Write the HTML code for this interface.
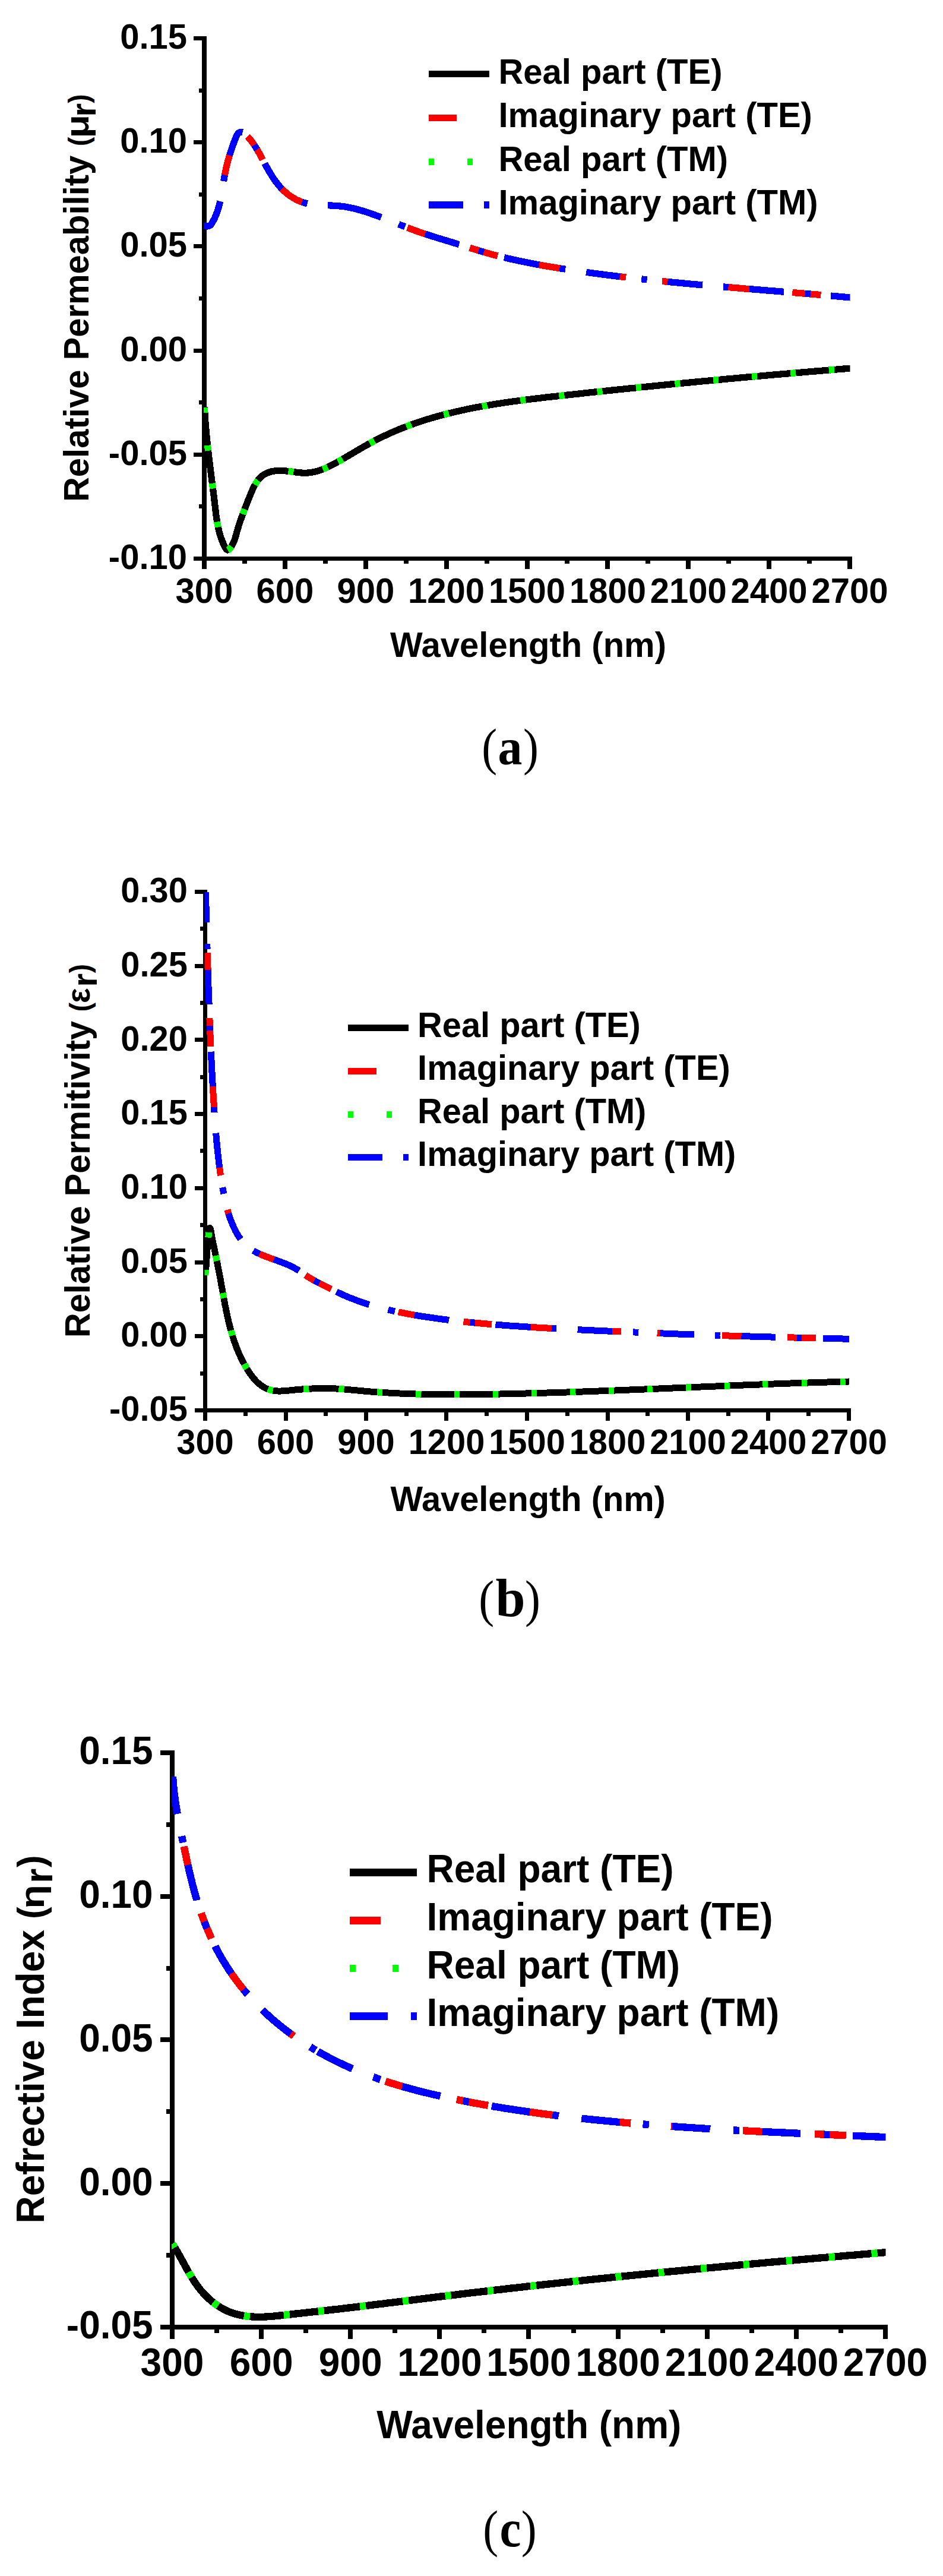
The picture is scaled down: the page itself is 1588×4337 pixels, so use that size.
<!DOCTYPE html>
<html><head><meta charset="utf-8"><title>Figure</title>
<style>html,body{margin:0;padding:0;background:#fff}svg{display:block}</style></head><body>
<svg width="1588" height="4337" viewBox="0 0 1588 4337">
<rect width="1588" height="4337" fill="#fff"/>
<g fill="#000" shape-rendering="crispEdges">
<rect x="340" y="61" width="8" height="883"/>
<rect x="340" y="937" width="1095" height="7"/>
<rect x="326" y="61" width="14" height="7"/>
<rect x="335" y="149" width="5" height="7"/>
<rect x="326" y="236" width="14" height="7"/>
<rect x="335" y="324" width="5" height="7"/>
<rect x="326" y="411" width="14" height="7"/>
<rect x="335" y="499" width="5" height="7"/>
<rect x="326" y="587" width="14" height="7"/>
<rect x="335" y="674" width="5" height="7"/>
<rect x="326" y="762" width="14" height="7"/>
<rect x="335" y="849" width="5" height="7"/>
<rect x="326" y="937" width="14" height="7"/>
<rect x="340" y="944" width="8" height="14"/>
<rect x="408" y="944" width="8" height="5"/>
<rect x="476" y="944" width="8" height="14"/>
<rect x="544" y="944" width="8" height="5"/>
<rect x="612" y="944" width="8" height="14"/>
<rect x="680" y="944" width="8" height="5"/>
<rect x="748" y="944" width="8" height="14"/>
<rect x="816" y="944" width="8" height="5"/>
<rect x="884" y="944" width="8" height="14"/>
<rect x="951" y="944" width="8" height="5"/>
<rect x="1019" y="944" width="8" height="14"/>
<rect x="1087" y="944" width="8" height="5"/>
<rect x="1155" y="944" width="8" height="14"/>
<rect x="1223" y="944" width="8" height="5"/>
<rect x="1291" y="944" width="8" height="14"/>
<rect x="1359" y="944" width="8" height="5"/>
<rect x="1427" y="944" width="8" height="14"/>
</g>
<g font-family='"Liberation Sans", Arial, Helvetica, sans-serif' font-weight="bold" font-size="58" fill="#000">
<text transform="translate(315 81.9) scale(1 1.03)" text-anchor="end">0.15</text>
<text transform="translate(315 257.1) scale(1 1.03)" text-anchor="end">0.10</text>
<text transform="translate(315 432.3) scale(1 1.03)" text-anchor="end">0.05</text>
<text transform="translate(315 607.5) scale(1 1.03)" text-anchor="end">0.00</text>
<text transform="translate(315 782.7) scale(1 1.03)" text-anchor="end">-0.05</text>
<text transform="translate(315 957.9) scale(1 1.03)" text-anchor="end">-0.10</text>
<text transform="translate(344 1015.1) scale(1 1.03)" text-anchor="middle">300</text>
<text transform="translate(479.9 1015.1) scale(1 1.03)" text-anchor="middle">600</text>
<text transform="translate(615.8 1015.1) scale(1 1.03)" text-anchor="middle">900</text>
<text transform="translate(751.6 1015.1) scale(1 1.03)" text-anchor="middle">1200</text>
<text transform="translate(887.5 1015.1) scale(1 1.03)" text-anchor="middle">1500</text>
<text transform="translate(1023.4 1015.1) scale(1 1.03)" text-anchor="middle">1800</text>
<text transform="translate(1159.2 1015.1) scale(1 1.03)" text-anchor="middle">2100</text>
<text transform="translate(1295.1 1015.1) scale(1 1.03)" text-anchor="middle">2400</text>
<text transform="translate(1431 1015.1) scale(1 1.03)" text-anchor="middle">2700</text>
<text transform="translate(657 1106) scale(1 1.03)">Wavelength (nm)</text>
<text transform="translate(149 845) rotate(-90) scale(1 1.03)">Relative Permeability</text>
<text transform="translate(149 246) rotate(-90) scale(1 1.03)" font-size="46" font-weight="bold">(</text>
<text transform="translate(149 232.5) rotate(-90) scale(1.2 1.03)" font-size="54" font-weight="bold">μ</text>
<text transform="translate(161.2 196.6) rotate(-90) scale(1 1.03)" font-size="58" font-weight="bold">r</text>
<text transform="translate(149 173.8) rotate(-90) scale(1 1.03)" font-size="46" font-weight="bold">)</text>
<text transform="translate(839.5 140.6) scale(1 1.03)">Real part (TE)</text>
<text transform="translate(839.5 214.3) scale(1 1.03)">Imaginary part (TE)</text>
<text transform="translate(839.5 288.2) scale(1 1.03)">Real part (TM)</text>
<text transform="translate(839.5 361) scale(1 1.03)">Imaginary part (TM)</text>
</g>
<g shape-rendering="crispEdges">
<rect x="722" y="118.9" width="102" height="11.2" fill="#000"/>
<rect x="722" y="192.7" width="47" height="11.2" fill="#f00"/>
<rect x="722" y="266.6" width="9" height="11.2" fill="#0f0"/>
<rect x="787" y="266.6" width="9" height="11.2" fill="#0f0"/>
<rect x="722" y="339.4" width="58" height="11.2" fill="#00f"/>
<rect x="815" y="339.4" width="9" height="11.2" fill="#00f"/>
</g>
<clipPath id="cpa"><rect x="343" y="64.5" width="1088.5" height="876"/></clipPath>
<g clip-path="url(#cpa)" fill="none" stroke-width="11.2" stroke-linecap="butt" stroke-linejoin="round" shape-rendering="crispEdges">
<path d="M378.2 296 L378.7 293.3 L379.2 290.8 L379.7 288.4 L380.2 285.9 L380.8 283.4 L381.3 281 L381.9 278.5 L382.5 276.1 L383.1 273.7 L383.8 271.2 L384.4 268.8 L385.1 266.3 L385.8 263.9 L386.6 261.4 L386.9 260.4" stroke="#f00"/>
<path d="M416.8 229.8 L418.6 231.7 L420.4 233.7 L422 235.7 L423.6 237.7 L425.2 239.8 L426.7 241.9 L428.1 244 L429.5 246.1" stroke="#f00"/>
<path d="M432 250.2 L433.5 252.7 L434.8 254.9 L436.1 257.2 L437.3 259.4 L438.6 261.7 L439.8 264 L441 266.3 L442.3 268.6 L442.5 269" stroke="#f00"/>
<path d="M473.8 317 L475.7 319 L477.5 320.8 L479.4 322.5 L481.4 324.2 L483.3 325.9 L485.4 327.5 L487.4 329 L489.5 330.5 L491.7 331.9 L493.8 333.2 L496.1 334.5 L498.3 335.7 L500.6 336.9 L502.9 337.9 L505.2 338.9 L507.6 339.8 L509.8 340.6" stroke="#f00"/>
<path d="M686.1 383.3 L688.6 384.2 L691 385.1 L693.4 386 L695.8 386.9 L698.2 387.8 L700.6 388.7 L703 389.5 L705.4 390.4 L707.9 391.2 L710.3 392.1 L712.7 392.9 L715.1 393.7 L717.4 394.4" stroke="#f00"/>
<path d="M791 417.2 L793.4 418 L795.9 418.7 L798.4 419.5 L800.9 420.3 L803.4 421 L805.9 421.8 L807.3 422.2" stroke="#f00"/>
<path d="M813.2 424 L815.9 424.8 L818.4 425.5 L820.9 426.2 L823.4 426.9 L825.9 427.6 L828.4 428.3 L830.9 428.9 L833.5 429.6 L836 430.2 L838.1 430.8" stroke="#f00"/>
<path d="M906.5 445.6 L909.3 446.1 L911.8 446.5 L914.4 447 L916.9 447.4 L919.5 447.9 L922 448.3 L924.6 448.7 L927.1 449.2 L929.7 449.6 L932.2 450 L934.7 450.4 L937.3 450.8 L939.8 451.3 L942.4 451.7 L943.9 451.9" stroke="#f00"/>
<path d="M1042.4 465.5 L1045.1 465.8 L1047.7 466.1 L1050.3 466.4 L1052.8 466.7 L1054.1 466.9" stroke="#f00"/>
<path d="M1114.9 473.5 L1117.5 473.7 L1120 474 L1122.6 474.2 L1125.2 474.5 L1125.8 474.5" stroke="#f00"/>
<path d="M1225 483.5 L1227.8 483.7 L1230.4 483.9 L1232.9 484.2 L1235.5 484.4 L1238.1 484.6 L1240.7 484.8 L1243.2 485 L1245.8 485.2 L1248.4 485.4 L1251 485.7 L1253.5 485.9 L1256.1 486.1 L1258.7 486.3 L1261.3 486.5 L1263.6 486.7" stroke="#f00"/>
<path d="M1334.3 492.5 L1336.9 492.7 L1339.5 492.9 L1342 493.1 L1344.6 493.3 L1347.2 493.5 L1349.8 493.7 L1352.3 494 L1354.9 494.2 L1357.3 494.4" stroke="#f00"/>
<path d="M1363.3 494.9 L1366.1 495.1 L1368.6 495.3 L1371.2 495.6 L1373.8 495.8 L1376.4 496 L1378.9 496.2 L1381.5 496.4 L1382.4 496.5" stroke="#f00"/>
<path d="M337.7 379.3 L340.4 379.7 L342.9 380.2 L345.7 380.7 L348.3 381 L351 380.8 L353.3 379.8 L355.2 378 L356.9 375.6 L358.2 373.4 L359.4 371.2 L360.6 368.9 L361.7 366.7 L362.7 364.3 L363.7 362 L364.7 359.6 L365.6 357.2 L366.4 354.7 L367.2 352.2 L367.9 349.8 L368.6 347.3 L369.3 344.7 L369.9 342.2 L370.5 339.6 L370.7 338.8" stroke="#00f"/>
<path d="M376.6 305.1 L377 302.6 L377.5 300 L377.9 297.5 L378.4 295 L378.5 294.6" stroke="#00f"/>
<path d="M386.4 261.8 L387.2 259.4 L388 256.9 L388.8 254.4 L389.6 251.9 L390.5 249.4 L391.3 246.9 L392.2 244.3 L393.2 241.7 L394.2 239.2 L395.2 236.5 L396.2 233.9 L397.3 231.3 L398.4 228.8 L399.7 226.5 L401.4 224.3 L403.5 222.9 L406.1 222.2 L408.5 222.8" stroke="#00f"/>
<path d="M428.2 244.1 L429.7 246.5 L431.1 248.7 L432.4 250.9 L433 251.8" stroke="#00f"/>
<path d="M445.8 275.1 L447 277.4 L448.3 279.7 L449.5 282 L450.8 284.3 L452.1 286.6 L453.4 288.8 L454.8 291.1 L456.1 293.3 L457.5 295.5 L458.9 297.7 L460.3 299.9 L461.8 302 L463.3 304.2 L464.8 306.3 L466.4 308.3 L468 310.3 L469.6 312.3 L471.3 314.3 L473 316.2 L474.8 318 L474.8 318" stroke="#00f"/>
<path d="M508.4 340.1 L510.8 340.9 L513.2 341.7 L515.7 342.3 L517.7 342.8" stroke="#00f"/>
<path d="M552 345.8 L554.6 345.9 L557.3 346 L559.9 346.1 L562.5 346.2 L565.1 346.4 L567.7 346.5 L570.3 346.8 L572.9 347 L575.5 347.3 L578.1 347.6 L580.7 348 L583.2 348.4 L585.8 348.9 L588.3 349.4 L590.9 349.9 L593.4 350.4 L595.9 351 L598.5 351.6 L601 352.3 L603.5 353 L606 353.7 L608.5 354.4 L610.9 355.1 L613.4 355.9 L615.9 356.7 L618.4 357.5 L620.8 358.3 L623.3 359.1 L625.7 360 L628.2 360.9 L630.6 361.7 L633.1 362.6 L635.5 363.5 L637.9 364.4 L640.4 365.4 L642 366" stroke="#00f"/>
<path d="M671.3 377.5 L673.7 378.5 L676.1 379.4 L678.5 380.3 L680.9 381.3 L682.1 381.8" stroke="#00f"/>
<path d="M715.9 393.9 L718.4 394.7 L720.8 395.5 L723.2 396.3 L725.7 397.1 L728.1 397.9 L730.6 398.6 L733 399.4 L735.5 400.1 L737.9 400.9 L740.3 401.6 L742.8 402.4 L745.3 403.1 L747.7 403.9 L750.2 404.6 L752.6 405.4 L755.1 406.1 L757.5 406.8 L760 407.6 L762.5 408.3 L764.9 409.1 L767.4 409.8 L769.9 410.6 L772.4 411.4 L773.2 411.6" stroke="#00f"/>
<path d="M805.9 421.8 L808.4 422.5 L810.9 423.3 L813.4 424 L814.7 424.4" stroke="#00f"/>
<path d="M849 433.5 L851.5 434.1 L854 434.7 L856.5 435.3 L859.1 435.9 L861.6 436.5 L864.1 437 L866.6 437.6 L869.2 438.1 L871.7 438.7 L874.2 439.2 L876.7 439.8 L879.3 440.3 L881.8 440.8 L884.3 441.3 L886.9 441.8 L889.4 442.3 L891.9 442.8 L894.5 443.3 L897 443.8 L899.6 444.3 L902.1 444.8 L904.6 445.2 L907.2 445.7 L908 445.8" stroke="#00f"/>
<path d="M942.4 451.7 L944.9 452.1 L947.5 452.5 L950 452.9 L952.2 453.2" stroke="#00f"/>
<path d="M987.1 458.3 L989.6 458.7 L992.2 459 L994.8 459.4 L997.3 459.7 L999.9 460.1 L1002.4 460.4 L1005 460.8 L1007.6 461.1 L1010.1 461.4 L1012.7 461.8 L1015.2 462.1 L1017.8 462.4 L1020.4 462.8 L1022.9 463.1 L1025.5 463.4 L1028 463.7 L1030.6 464 L1033.2 464.4 L1035.7 464.7 L1038.3 465 L1040.9 465.3 L1043.4 465.6 L1043.9 465.7" stroke="#00f"/>
<path d="M1080.2 469.8 L1082.8 470.1 L1085.3 470.4 L1087.9 470.7 L1089.6 470.8" stroke="#00f"/>
<path d="M1124.3 474.4 L1126.9 474.7 L1129.5 474.9 L1132.1 475.2 L1134.6 475.4 L1137.2 475.7 L1139.8 475.9 L1142.3 476.1 L1144.9 476.4 L1147.5 476.6 L1150.1 476.9 L1152.6 477.1 L1155.2 477.4 L1157.8 477.6 L1160.4 477.8 L1162.9 478.1 L1165.5 478.3 L1168.1 478.5 L1170.7 478.8 L1173.2 479 L1175.8 479.2 L1178.4 479.5 L1181 479.7 L1183.1 479.9" stroke="#00f"/>
<path d="M1217.9 482.9 L1220.5 483.1 L1223 483.3 L1225.6 483.5 L1226.5 483.6" stroke="#00f"/>
<path d="M1262.1 486.6 L1264.7 486.8 L1267.3 487 L1269.9 487.2 L1272.4 487.4 L1275 487.6 L1277.6 487.8 L1280.2 488 L1282.8 488.3 L1285.3 488.5 L1287.9 488.7 L1290.5 488.9 L1293.1 489.1 L1295.6 489.3 L1298.2 489.5 L1300.8 489.7 L1303.4 489.9 L1306 490.1 L1308.5 490.3 L1311.1 490.6 L1313.7 490.8 L1316.3 491 L1318.8 491.2 L1320.1 491.3" stroke="#00f"/>
<path d="M1355.8 494.2 L1358.3 494.5 L1360.9 494.7 L1363.5 494.9 L1364.8 495" stroke="#00f"/>
<path d="M1399.1 498 L1401.7 498.2 L1404.3 498.4 L1406.8 498.7 L1409.4 498.9 L1412 499.1 L1414.5 499.4 L1417.1 499.6 L1419.7 499.8 L1422.3 500.1 L1424.8 500.3 L1427.4 500.5 L1430 500.8 L1432.5 501 L1435.1 501.3 L1436 501.3" stroke="#00f"/>
<path d="M344.5 685.5 L344.6 688.3 L344.8 691.1 L344.9 693.9 L345.1 696.8 L345.2 699.6 L345.4 702.4 L345.6 705.2 L345.8 708.1 L346 710.9 L346.2 713.7 L346.4 716.5 L346.6 719.3 L346.9 722.1 L347.1 724.9 L347.4 727.7 L347.6 730.5 L347.9 733.3 L348.2 736.1 L348.4 738.9 L348.7 741.7 L349 744.5 L349.3 747.3 L349.6 750.1 L349.9 752.9 L350.2 755.7 L350.5 758.5 L350.9 761.3 L351.2 764.1 L351.5 766.9 L351.8 769.7 L352.2 772.5 L352.5 775.3 L352.9 778.1 L353.2 780.9 L353.6 783.7 L353.9 786.5 L354.3 789.3 L354.6 792.1 L355 794.9 L355.3 797.6 L355.7 800.4 L356 803.2 L356.4 806 L356.8 808.8 L357.1 811.6 L357.5 814.4 L357.8 817.2 L358.2 820 L358.5 822.8 L358.9 825.6 L359.2 828.4 L359.6 831.2 L360 834 L360.3 836.8 L360.6 839.6 L361 842.4 L361.3 845.2 L361.7 848 L362 850.8 L362.3 853.7 L362.7 856.5 L363 859.3 L363.3 862.1 L363.7 864.9 L364 867.7 L364.4 870.5 L364.8 873.3 L365.3 876.1 L365.7 878.9 L366.2 881.7 L366.7 884.4 L367.3 887.2 L367.9 890 L368.5 892.7 L369.2 895.4 L369.9 898.2 L370.7 900.9 L371.6 903.6 L372.5 906.3 L373.5 908.9 L374.5 911.6 L375.6 914.2 L376.8 916.9 L378 919.5 L379.4 922.1 L380.8 924.4 L383 926 L385.5 925.1 L387.4 923.2 L389 921.1 L390.4 918.9 L391.7 916.6 L392.8 914.4 L394 911.6 L395 908.9 L395.9 906.2 L396.7 903.5 L397.5 900.7 L398.2 898 L399 895.3 L399.8 892.5 L400.6 889.8 L401.4 887.1 L402.3 884.4 L403.2 881.7 L404.1 879 L405 876.3 L405.9 873.7 L406.9 871 L407.8 868.4 L408.8 865.8 L409.8 863.2 L410.8 860.6 L411.7 858 L412.7 855.5 L413.7 852.9 L414.7 850.4 L415.7 847.8 L416.7 845.2 L417.7 842.6 L418.8 840 L419.8 837.4 L420.9 834.8 L422 832.1 L423.1 829.4 L424.3 826.6 L425.5 823.9 L426.8 821.3 L428.1 818.6 L429.5 816.1 L430.9 813.6 L432.5 811.2 L434.1 808.9 L435.9 806.7 L437.7 804.6 L439.7 802.7 L441.8 801 L444 799.4 L446.3 798 L448.7 796.8 L451.3 795.7 L453.9 794.8 L456.5 794 L459.2 793.4 L462 793 L464.8 792.6 L467.6 792.4 L470.5 792.3 L473.3 792.4 L476.1 792.5 L479 792.7 L481.9 793 L484.7 793.3 L487.6 793.6 L490.4 794 L493.3 794.4 L496.1 794.8 L499 795.2 L501.8 795.5 L504.7 795.8 L507.5 796 L510.3 796.2 L513.1 796.2 L515.8 796.2 L518.6 796 L521.3 795.8 L524 795.4 L526.7 794.9 L529.4 794.4 L532.1 793.7 L534.7 793 L537.4 792.2 L540 791.3 L542.6 790.4 L545.2 789.3 L547.8 788.3 L550.4 787.1 L552.9 785.9 L555.5 784.7 L558 783.4 L560.6 782.1 L563.1 780.8 L565.6 779.4 L568.1 778 L570.6 776.6 L573.1 775.2 L575.6 773.8 L578.1 772.3 L580.6 770.9 L583.1 769.4 L585.5 768 L588 766.5 L590.5 765.1 L592.9 763.6 L595.4 762.2 L597.9 760.7 L600.3 759.3 L602.8 757.8 L605.2 756.4 L607.7 754.9 L610.2 753.5 L612.6 752.1 L615.1 750.7 L617.6 749.3 L620.1 747.9 L622.5 746.5 L625 745.1 L627.5 743.8 L630 742.5 L632.5 741.2 L635 739.9 L637.5 738.6 L640.1 737.3 L642.6 736.1 L645.1 734.9 L647.6 733.7 L650.2 732.5 L652.7 731.3 L655.3 730.1 L657.8 729 L660.4 727.8 L663 726.7 L665.6 725.6 L668.1 724.5 L670.7 723.4 L673.3 722.4 L675.9 721.3 L678.5 720.3 L681.1 719.3 L683.7 718.3 L686.3 717.3 L688.9 716.3 L691.6 715.3 L694.2 714.4 L696.8 713.5 L699.5 712.5 L702.1 711.6 L704.8 710.7 L707.4 709.8 L710.1 709 L712.7 708.1 L715.4 707.3 L718 706.4 L720.7 705.6 L723.4 704.8 L726.1 704 L728.8 703.2 L731.4 702.4 L734.1 701.7 L736.8 700.9 L739.5 700.2 L742.2 699.4 L744.9 698.7 L747.6 698 L750.3 697.3 L753.1 696.6 L755.8 695.9 L758.5 695.3 L761.2 694.6 L764 694 L766.7 693.3 L769.4 692.7 L772.2 692.1 L774.9 691.5 L777.6 690.9 L780.4 690.3 L783.1 689.7 L785.9 689.1 L788.6 688.5 L791.4 688 L794.2 687.4 L796.9 686.9 L799.7 686.3 L802.4 685.8 L805.2 685.3 L808 684.8 L810.8 684.3 L813.5 683.8 L816.3 683.3 L819.1 682.8 L821.9 682.3 L824.7 681.9 L827.4 681.4 L830.2 681 L833 680.5 L835.8 680.1 L838.6 679.6 L841.4 679.2 L844.2 678.8 L847 678.3 L849.8 677.9 L852.6 677.5 L855.4 677.1 L858.2 676.7 L861 676.3 L863.8 675.9 L866.6 675.6 L869.4 675.2 L872.2 674.8 L875 674.4 L877.9 674.1 L880.7 673.7 L883.5 673.3 L886.3 673 L889.1 672.6 L891.9 672.3 L894.7 671.9 L897.5 671.6 L900.4 671.3 L903.2 670.9 L906 670.6 L908.8 670.3 L911.6 669.9 L914.4 669.6 L917.3 669.3 L920.1 668.9 L922.9 668.6 L925.7 668.3 L928.5 668 L931.4 667.7 L934.2 667.4 L937 667.1 L939.8 666.7 L942.6 666.4 L945.4 666.1 L948.3 665.8 L951.1 665.5 L953.9 665.2 L956.7 664.9 L959.5 664.6 L962.3 664.3 L965.1 664 L968 663.7 L970.8 663.4 L973.6 663.1 L976.4 662.8 L979.2 662.4 L982 662.1 L984.8 661.8 L987.6 661.5 L990.4 661.2 L993.2 660.9 L996.1 660.6 L998.9 660.3 L1001.7 660 L1004.5 659.8 L1007.3 659.5 L1010.1 659.2 L1012.9 658.9 L1015.7 658.6 L1018.5 658.3 L1021.3 658 L1024.1 657.7 L1026.9 657.4 L1029.7 657.1 L1032.5 656.8 L1035.3 656.5 L1038.1 656.2 L1041 655.9 L1043.8 655.6 L1046.6 655.4 L1049.4 655.1 L1052.2 654.8 L1055 654.5 L1057.8 654.2 L1060.6 653.9 L1063.4 653.6 L1066.2 653.4 L1069 653.1 L1071.8 652.8 L1074.6 652.5 L1077.4 652.2 L1080.2 651.9 L1083 651.7 L1085.8 651.4 L1088.6 651.1 L1091.4 650.8 L1094.2 650.5 L1097 650.3 L1099.8 650 L1102.6 649.7 L1105.4 649.4 L1108.2 649.1 L1111 648.9 L1113.8 648.6 L1116.6 648.3 L1119.4 648 L1122.2 647.8 L1125 647.5 L1127.8 647.2 L1130.6 646.9 L1133.4 646.7 L1136.2 646.4 L1139 646.1 L1141.8 645.9 L1144.6 645.6 L1147.4 645.3 L1150.2 645 L1153 644.8 L1155.8 644.5 L1158.6 644.2 L1161.4 644 L1164.1 643.7 L1166.9 643.4 L1169.7 643.2 L1172.5 642.9 L1175.3 642.6 L1178.1 642.4 L1180.9 642.1 L1183.7 641.8 L1186.5 641.6 L1189.3 641.3 L1192.1 641.1 L1194.9 640.8 L1197.7 640.5 L1200.5 640.3 L1203.3 640 L1206.1 639.7 L1208.9 639.5 L1211.7 639.2 L1214.5 639 L1217.3 638.7 L1220.1 638.5 L1222.9 638.2 L1225.7 637.9 L1228.5 637.7 L1231.3 637.4 L1234.1 637.2 L1236.9 636.9 L1239.7 636.7 L1242.5 636.4 L1245.3 636.1 L1248.1 635.9 L1250.9 635.6 L1253.7 635.4 L1256.5 635.1 L1259.3 634.9 L1262.1 634.6 L1264.9 634.4 L1267.7 634.1 L1270.5 633.9 L1273.4 633.6 L1276.2 633.4 L1279 633.1 L1281.8 632.9 L1284.6 632.6 L1287.4 632.4 L1290.2 632.1 L1293 631.9 L1295.8 631.6 L1298.6 631.4 L1301.4 631.1 L1304.2 630.9 L1307 630.7 L1309.8 630.4 L1312.6 630.2 L1315.4 629.9 L1318.2 629.7 L1321.1 629.4 L1323.9 629.2 L1326.7 629 L1329.5 628.7 L1332.3 628.5 L1335.1 628.2 L1337.9 628 L1340.7 627.7 L1343.5 627.5 L1346.3 627.3 L1349.2 627 L1352 626.8 L1354.8 626.5 L1357.6 626.3 L1360.4 626.1 L1363.2 625.8 L1366 625.6 L1368.9 625.4 L1371.7 625.1 L1374.5 624.9 L1377.3 624.6 L1380.1 624.4 L1382.9 624.2 L1385.8 623.9 L1388.6 623.7 L1391.4 623.5 L1394.2 623.2 L1397 623 L1399.9 622.8 L1402.7 622.5 L1405.5 622.3 L1408.3 622.1 L1411.1 621.8 L1414 621.6 L1416.8 621.4 L1419.6 621.1 L1422.4 620.9 L1425.3 620.7 L1428.1 620.4 L1430.9 620.2 L1433.8 620 L1436.1 619.8" stroke="#000"/>
<path d="M344.5 685.7 L344.6 688.3 L344.8 691.1 L344.9 693.9 L344.9 694.7" stroke="#0f0"/>
<path d="M349.6 749.9 L349.9 752.5 L350.2 755.3 L350.5 758.1 L350.6 758.8" stroke="#0f0"/>
<path d="M357.4 813.7 L357.7 816.3 L358.1 819.1 L358.4 821.9 L358.5 822.6" stroke="#0f0"/>
<path d="M365.7 878.6 L366.1 881.2 L366.6 884 L367.2 886.7 L367.3 887.5" stroke="#0f0"/>
<path d="M383.5 926 L385.8 924.9 L387.8 922.8 L389.3 920.7 L389.8 920" stroke="#0f0"/>
<path d="M408.9 865.7 L409.8 863.2 L410.8 860.6 L411.7 858 L412 857.2" stroke="#0f0"/>
<path d="M429.4 816.2 L430.7 814 L432.2 811.6 L433.9 809.2 L434.3 808.7" stroke="#0f0"/>
<path d="M485.5 793.4 L488.1 793.7 L490.9 794.1 L493.8 794.5 L494.4 794.6" stroke="#0f0"/>
<path d="M543.6 790 L546.1 789 L548.7 787.9 L551.2 786.7 L551.9 786.4" stroke="#0f0"/>
<path d="M569.2 777.4 L571.5 776.2 L574 774.7 L576.5 773.3 L577 773" stroke="#0f0"/>
<path d="M622.7 746.4 L625 745.1 L627.5 743.8 L630 742.5 L630.7 742.1" stroke="#0f0"/>
<path d="M684.3 718.1 L686.8 717.1 L689.4 716.1 L692 715.2 L692.7 714.9" stroke="#0f0"/>
<path d="M747.3 698.1 L749.9 697.4 L752.6 696.7 L755.3 696.1 L756.1 695.9" stroke="#0f0"/>
<path d="M811.9 684.1 L814.5 683.6 L817.2 683.1 L820 682.7 L820.7 682.5" stroke="#0f0"/>
<path d="M876.2 674.3 L878.8 673.9 L881.6 673.6 L884.4 673.2 L885.1 673.1" stroke="#0f0"/>
<path d="M941.4 666.6 L944 666.3 L946.8 666 L949.7 665.7 L950.4 665.6" stroke="#0f0"/>
<path d="M1005.6 659.6 L1008.2 659.4 L1011 659.1 L1013.8 658.8 L1014.6 658.7" stroke="#0f0"/>
<path d="M1071 652.9 L1073.6 652.6 L1076.4 652.3 L1079.2 652 L1080 652" stroke="#0f0"/>
<path d="M1136.4 646.4 L1139 646.1 L1141.8 645.9 L1144.6 645.6 L1145.3 645.5" stroke="#0f0"/>
<path d="M1201.2 640.2 L1203.8 640 L1206.6 639.7 L1209.4 639.4 L1210.1 639.4" stroke="#0f0"/>
<path d="M1266.1 634.3 L1268.7 634 L1271.5 633.8 L1274.3 633.5 L1275 633.5" stroke="#0f0"/>
<path d="M1331.1 628.6 L1333.7 628.3 L1336.5 628.1 L1339.3 627.9 L1340.1 627.8" stroke="#0f0"/>
<path d="M1395.8 623.1 L1398.4 622.9 L1401.3 622.7 L1404.1 622.4 L1404.8 622.4" stroke="#0f0"/>
</g>
<g font-family='"Liberation Serif", "Times New Roman", serif' fill="#000">
<text transform="translate(811.3 1286.5) scale(0.905 1)" font-size="86">(</text>
<text transform="translate(838.4 1286.5) scale(0.94 1)" font-size="87" font-weight="bold">a</text>
<text transform="translate(881.1 1286.5) scale(0.905 1)" font-size="86">)</text>
</g>
<g fill="#000" shape-rendering="crispEdges">
<rect x="342" y="1498" width="7" height="880"/>
<rect x="342" y="2371" width="1091" height="7"/>
<rect x="328" y="1498" width="14" height="7"/>
<rect x="337" y="1560" width="5" height="7"/>
<rect x="328" y="1623" width="14" height="7"/>
<rect x="337" y="1685" width="5" height="7"/>
<rect x="328" y="1747" width="14" height="7"/>
<rect x="337" y="1810" width="5" height="7"/>
<rect x="328" y="1872" width="14" height="7"/>
<rect x="337" y="1934" width="5" height="7"/>
<rect x="328" y="1997" width="14" height="7"/>
<rect x="337" y="2059" width="5" height="7"/>
<rect x="328" y="2122" width="14" height="7"/>
<rect x="337" y="2184" width="5" height="7"/>
<rect x="328" y="2246" width="14" height="7"/>
<rect x="337" y="2309" width="5" height="7"/>
<rect x="328" y="2371" width="14" height="7"/>
<rect x="342" y="2378" width="7" height="14"/>
<rect x="410" y="2378" width="7" height="6"/>
<rect x="478" y="2378" width="7" height="14"/>
<rect x="545" y="2378" width="7" height="6"/>
<rect x="613" y="2378" width="7" height="14"/>
<rect x="681" y="2378" width="7" height="6"/>
<rect x="748" y="2378" width="7" height="14"/>
<rect x="816" y="2378" width="7" height="6"/>
<rect x="884" y="2378" width="7" height="14"/>
<rect x="952" y="2378" width="7" height="6"/>
<rect x="1020" y="2378" width="7" height="14"/>
<rect x="1087" y="2378" width="7" height="6"/>
<rect x="1155" y="2378" width="7" height="14"/>
<rect x="1223" y="2378" width="7" height="6"/>
<rect x="1290" y="2378" width="7" height="14"/>
<rect x="1358" y="2378" width="7" height="6"/>
<rect x="1426" y="2378" width="7" height="14"/>
</g>
<g font-family='"Liberation Sans", Arial, Helvetica, sans-serif' font-weight="bold" font-size="57.8" fill="#000">
<text transform="translate(315.8 1519.1) scale(1 1.03)" text-anchor="end">0.30</text>
<text transform="translate(315.8 1643.8) scale(1 1.03)" text-anchor="end">0.25</text>
<text transform="translate(315.8 1768.5) scale(1 1.03)" text-anchor="end">0.20</text>
<text transform="translate(315.8 1893.2) scale(1 1.03)" text-anchor="end">0.15</text>
<text transform="translate(315.8 2018) scale(1 1.03)" text-anchor="end">0.10</text>
<text transform="translate(315.8 2142.7) scale(1 1.03)" text-anchor="end">0.05</text>
<text transform="translate(315.8 2267.4) scale(1 1.03)" text-anchor="end">0.00</text>
<text transform="translate(315.8 2392.1) scale(1 1.03)" text-anchor="end">-0.05</text>
<text transform="translate(345.5 2448) scale(1 1.03)" text-anchor="middle">300</text>
<text transform="translate(481 2448) scale(1 1.03)" text-anchor="middle">600</text>
<text transform="translate(616.5 2448) scale(1 1.03)" text-anchor="middle">900</text>
<text transform="translate(752 2448) scale(1 1.03)" text-anchor="middle">1200</text>
<text transform="translate(887.5 2448) scale(1 1.03)" text-anchor="middle">1500</text>
<text transform="translate(1023 2448) scale(1 1.03)" text-anchor="middle">1800</text>
<text transform="translate(1158.5 2448) scale(1 1.03)" text-anchor="middle">2100</text>
<text transform="translate(1294 2448) scale(1 1.03)" text-anchor="middle">2400</text>
<text transform="translate(1429.5 2448) scale(1 1.03)" text-anchor="middle">2700</text>
<text transform="translate(657.5 2543.6) scale(1 1.03)">Wavelength (nm)</text>
<text transform="translate(150.9 2252) rotate(-90) scale(1 1.03)">Relative Permitivity</text>
<text transform="translate(150.9 1703.3) rotate(-90) scale(1 1.03)" font-size="46" font-weight="bold">(</text>
<text transform="translate(150.9 1689.1) rotate(-90) scale(1 1.03)" font-size="54" font-weight="bold">ε</text>
<text transform="translate(163 1661.4) rotate(-90) scale(1 1.03)" font-size="58" font-weight="bold">r</text>
<text transform="translate(150.9 1638.3) rotate(-90) scale(1 1.03)" font-size="46" font-weight="bold">)</text>
<text transform="translate(703.1 1745.9) scale(1 1.03)">Real part (TE)</text>
<text transform="translate(703.1 1818.4) scale(1 1.03)">Imaginary part (TE)</text>
<text transform="translate(703.1 1890.9) scale(1 1.03)">Real part (TM)</text>
<text transform="translate(703.1 1963.1) scale(1 1.03)">Imaginary part (TM)</text>
</g>
<g shape-rendering="crispEdges">
<rect x="586.1" y="1724.9" width="101.8" height="11" fill="#000"/>
<rect x="586.1" y="1797.8" width="47.7" height="11" fill="#f00"/>
<rect x="586.1" y="1870.5" width="8.9" height="11" fill="#0f0"/>
<rect x="651.3" y="1870.5" width="8.9" height="11" fill="#0f0"/>
<rect x="586.1" y="1943.2" width="57.9" height="11" fill="#00f"/>
<rect x="679" y="1943.2" width="8.9" height="11" fill="#00f"/>
</g>
<clipPath id="cpb"><rect x="344.5" y="1502" width="1085.5" height="872.5"/></clipPath>
<g clip-path="url(#cpb)" fill="none" stroke-width="11" stroke-linecap="butt" stroke-linejoin="round" shape-rendering="crispEdges">
<path d="M349.3 1604.4 L349.4 1607.2 L349.4 1609.9 L349.5 1612.7 L349.6 1615.5 L349.7 1618.2 L349.8 1621 L349.9 1623.8 L349.9 1626.6 L350 1629.3 L350.1 1632.1 L350.2 1634.2" stroke="#f00"/>
<path d="M352.9 1714.1 L353 1716.9 L353.1 1719.7 L353.2 1722.4 L353.3 1725.2 L353.5 1728 L353.5 1728.4" stroke="#f00"/>
<path d="M353.7 1733.7 L353.8 1736.3 L353.9 1739 L354 1741.8 L354.1 1744.6 L354.3 1747.4 L354.4 1750.1 L354.5 1752.9 L354.6 1755.7 L354.7 1758.4 L354.9 1761.2 L354.9 1761.8" stroke="#f00"/>
<path d="M358.2 1827.4 L358.4 1830 L358.5 1832.8 L358.7 1835.6 L358.9 1838.3 L359 1841.1 L359.2 1843.9 L359.4 1846.7 L359.5 1849.4 L359.7 1852.2 L359.9 1855 L360.1 1857.8 L360.2 1860.6 L360.4 1863.3 L360.5 1865.4" stroke="#f00"/>
<path d="M369.5 1964.3 L369.9 1966.9 L370.2 1969.7 L370.6 1972.4 L371 1975.1 L371.4 1977.9 L371.6 1979" stroke="#f00"/>
<path d="M382.9 2036.7 L383.7 2039.4 L384.5 2042 L385.1 2044.2" stroke="#f00"/>
<path d="M435.8 2110.5 L438.2 2111.6 L440.7 2112.6 L443.2 2113.7 L445.7 2114.7 L448.3 2115.7 L450.8 2116.7 L453.4 2117.6 L456 2118.6 L458.6 2119.5 L461.2 2120.4 L462.6 2120.9" stroke="#f00"/>
<path d="M514.4 2146.9 L516.8 2148.5 L519.1 2150 L521.5 2151.5 L523.9 2152.9 L526.3 2154.3 L528.7 2155.6 L530.5 2156.6" stroke="#f00"/>
<path d="M536.6 2159.8 L538.9 2161 L541.3 2162.2 L543.8 2163.5 L546.2 2164.7 L548.7 2165.9 L551.2 2167.1 L553.7 2168.3 L556.2 2169.6 L557.7 2170.3" stroke="#f00"/>
<path d="M670.8 2208.9 L673.5 2209.5 L676.2 2210 L678.9 2210.6 L681.6 2211.1 L684.3 2211.6 L687 2212.1 L689.7 2212.6 L692.5 2213.1 L695.2 2213.6 L697.9 2214 L699.4 2214.3" stroke="#f00"/>
<path d="M780.5 2225.2 L783.3 2225.5 L786.1 2225.8 L788.8 2226.1 L791.6 2226.3 L793.1 2226.5" stroke="#f00"/>
<path d="M798.4 2227 L801.1 2227.2 L803.8 2227.5 L806.6 2227.8 L809.4 2228 L812.2 2228.3 L814.9 2228.5 L817.7 2228.8 L820.5 2229 L823.3 2229.2 L826.1 2229.5 L828.3 2229.6" stroke="#f00"/>
<path d="M892.3 2234.3 L894.9 2234.4 L897.7 2234.6 L900.5 2234.8 L903.3 2235 L906 2235.1 L908.8 2235.3 L911.6 2235.4 L914.4 2235.6 L917.1 2235.8 L919.9 2235.9 L922.7 2236.1 L925.5 2236.2 L928.2 2236.4 L930.3 2236.5" stroke="#f00"/>
<path d="M1029.8 2241.3 L1032.4 2241.4 L1035.2 2241.5 L1038 2241.6 L1040.7 2241.8 L1043.5 2241.9 L1046.3 2242 L1046.3 2242" stroke="#f00"/>
<path d="M1106.6 2244.6 L1109.4 2244.7 L1112.2 2244.8 L1112.6 2244.8" stroke="#f00"/>
<path d="M1216.3 2248.6 L1219.1 2248.7 L1221.9 2248.8 L1224.7 2248.9 L1227.4 2249 L1230.2 2249 L1233 2249.1 L1235.7 2249.2 L1238.5 2249.3 L1241.3 2249.4 L1244.1 2249.5 L1246.8 2249.5 L1249.6 2249.6 L1250 2249.6" stroke="#f00"/>
<path d="M1326.2 2251.7 L1329 2251.8 L1331.7 2251.8 L1334.5 2251.9 L1337.3 2252 L1340.1 2252 L1342.8 2252.1 L1343.2 2252.1" stroke="#f00"/>
<path d="M1348.6 2252.3 L1351.2 2252.3 L1354 2252.4 L1356.7 2252.5 L1359.5 2252.5 L1362.3 2252.6 L1365.1 2252.7 L1367.9 2252.7 L1370.6 2252.8 L1373.4 2252.9 L1374 2252.9" stroke="#f00"/>
<path d="M346 1489.9 L346 1492.7 L346.1 1495.5 L346.2 1498.3 L346.3 1501.1 L346.4 1503.9 L346.4 1506.6 L346.5 1509.4 L346.6 1512.2 L346.7 1515 L346.8 1517.8 L346.9 1520.5 L346.9 1523.3 L347 1526.1 L347.1 1528.9 L347.2 1531.7 L347.3 1534.4 L347.3 1537.2 L347.4 1540 L347.5 1542.8 L347.6 1545.6 L347.7 1548.3 L347.7 1551.1 L347.8 1553.3" stroke="#00f"/>
<path d="M348.8 1589.4 L348.9 1592.2 L349 1595 L349.1 1597.7 L349.1 1597.7" stroke="#00f"/>
<path d="M350.1 1632.7 L350.2 1635.4 L350.3 1638.2 L350.4 1641 L350.5 1643.7 L350.6 1646.5 L350.6 1649.3 L350.7 1652.1 L350.8 1654.8 L350.9 1657.6 L351 1660.4 L351.1 1663.1 L351.2 1665.9 L351.3 1668.7 L351.4 1671.5 L351.5 1674.2 L351.6 1677 L351.7 1679.8 L351.8 1682.5 L351.9 1685.3 L352 1688.1 L352.1 1690.8 L352.1 1690.8" stroke="#00f"/>
<path d="M353.4 1726.9 L353.5 1729.6 L353.6 1732.4 L353.8 1735.2 L353.8 1735.2" stroke="#00f"/>
<path d="M355.3 1770.6 L355.4 1773.4 L355.6 1776.2 L355.7 1779 L355.8 1781.7 L356 1784.5 L356.1 1787.3 L356.2 1790 L356.4 1792.8 L356.5 1795.6 L356.7 1798.4 L356.8 1801.1 L356.9 1803.9 L357.1 1806.7 L357.2 1809.5 L357.4 1812.2 L357.5 1815 L357.7 1817.8 L357.8 1820.6 L358 1823.3 L358.2 1826.1 L358.3 1828.9 L358.3 1828.9" stroke="#00f"/>
<path d="M360.5 1863.9 L360.6 1866.7 L360.8 1869.5 L361 1872.2 L361 1872.8" stroke="#00f"/>
<path d="M363.6 1907.8 L363.9 1910.6 L364.1 1913.4 L364.4 1916.1 L364.6 1918.9 L364.9 1921.7 L365.1 1924.4 L365.4 1927.2 L365.6 1930 L365.9 1932.8 L366.2 1935.5 L366.5 1938.3 L366.8 1941 L367.1 1943.8 L367.4 1946.6 L367.7 1949.3 L368 1952.1 L368.3 1954.8 L368.7 1957.6 L369 1960.3 L369.4 1963.1 L369.7 1965.8 L369.7 1965.8" stroke="#00f"/>
<path d="M374.8 1999.1 L375.3 2001.8 L375.8 2004.5 L376.3 2007.2 L376.8 2009.9 L376.8 2009.9" stroke="#00f"/>
<path d="M384.8 2043.1 L385.7 2045.7 L386.5 2048.4 L387.4 2051 L388.4 2053.7 L389.4 2056.3 L390.4 2058.9 L391.5 2061.5 L392.7 2064.2 L393.8 2066.8 L395.1 2069.3 L396.3 2071.9 L397.7 2074.4 L399.1 2076.9 L400.5 2079.3 L402 2081.7 L403.6 2084 L405.2 2086.3 L405.2 2086.3" stroke="#00f"/>
<path d="M426.5 2105.6 L428.9 2107 L431.3 2108.3 L433.7 2109.5 L436.2 2110.6 L437.2 2111.1" stroke="#00f"/>
<path d="M461.2 2120.4 L463.7 2121.3 L466.3 2122.2 L468.9 2123.2 L471.5 2124.1 L474.1 2125.1 L476.7 2126.1 L479.2 2127.1 L481.8 2128.1 L484.3 2129.2 L486.9 2130.3 L489.4 2131.5 L491.9 2132.7 L494.3 2134 L496.8 2135.3 L499.2 2136.8 L501.7 2138.2 L503.6 2139.5" stroke="#00f"/>
<path d="M529.2 2155.9 L531.6 2157.2 L534 2158.5 L536.4 2159.8 L537.9 2160.5" stroke="#00f"/>
<path d="M566.7 2174.8 L569.2 2176.1 L571.8 2177.3 L574.3 2178.5 L576.8 2179.6 L579.4 2180.8 L581.9 2181.9 L584.5 2183 L587 2184.1 L589.6 2185.1 L592.2 2186.1 L594.8 2187.1 L597.3 2188.1 L599.9 2189.1 L602.5 2190.1 L605.1 2191 L607.7 2191.9 L610.3 2192.8 L612.9 2193.7 L615.5 2194.5 L618.2 2195.4 L620.8 2196.2 L621.8 2196.5" stroke="#00f"/>
<path d="M653.6 2205.1 L656.3 2205.8 L659 2206.4 L661.7 2207 L664.4 2207.6 L664.9 2207.7" stroke="#00f"/>
<path d="M697.9 2214 L700.6 2214.5 L703.4 2214.9 L706.1 2215.4 L708.8 2215.8 L711.6 2216.3 L714.3 2216.7 L717 2217.1 L719.8 2217.5 L722.5 2217.9 L725.3 2218.4 L728 2218.7 L730.8 2219.1 L733.5 2219.5 L736.3 2219.9 L739 2220.3 L741.8 2220.6 L744.5 2221 L747.3 2221.4 L750.1 2221.7 L752.8 2222 L755.6 2222.4 L756.1 2222.5" stroke="#00f"/>
<path d="M791.6 2226.3 L794.4 2226.6 L797.2 2226.9 L799.9 2227.1 L799.9 2227.1" stroke="#00f"/>
<path d="M834.4 2230.1 L837.2 2230.4 L840 2230.6 L842.7 2230.8 L845.5 2231 L848.3 2231.2 L851.1 2231.4 L853.9 2231.6 L856.6 2231.9 L859.4 2232.1 L862.2 2232.3 L865 2232.5 L867.7 2232.6 L870.5 2232.8 L873.3 2233 L876.1 2233.2 L878.8 2233.4 L881.6 2233.6 L884.4 2233.8 L887.2 2233.9 L889.9 2234.1 L892.7 2234.3 L893.8 2234.4" stroke="#00f"/>
<path d="M928.8 2236.4 L931.6 2236.6 L934.3 2236.7 L937.1 2236.9 L937.1 2236.9" stroke="#00f"/>
<path d="M972.6 2238.7 L975.4 2238.8 L978.1 2238.9 L980.9 2239.1 L983.7 2239.2 L986.4 2239.3 L989.2 2239.5 L992 2239.6 L994.8 2239.7 L997.5 2239.8 L1000.3 2240 L1003.1 2240.1 L1005.8 2240.2 L1008.6 2240.3 L1011.4 2240.5 L1014.1 2240.6 L1016.9 2240.7 L1019.7 2240.8 L1022.5 2241 L1025.2 2241.1 L1028 2241.2 L1030.8 2241.3 L1031.3 2241.3" stroke="#00f"/>
<path d="M1065.7 2242.9 L1068.4 2243 L1071.2 2243.1 L1074 2243.2 L1075.1 2243.3" stroke="#00f"/>
<path d="M1111.1 2244.8 L1113.8 2244.9 L1116.6 2245 L1119.4 2245.1 L1122.2 2245.2 L1124.9 2245.3 L1127.7 2245.4 L1130.5 2245.5 L1133.2 2245.7 L1136 2245.8 L1138.8 2245.9 L1141.5 2246 L1144.3 2246.1 L1147.1 2246.2 L1149.9 2246.3 L1152.6 2246.4 L1155.4 2246.5 L1158.2 2246.6 L1160.9 2246.7 L1163.7 2246.8 L1166.5 2246.9 L1169.2 2247 L1169.2 2247" stroke="#00f"/>
<path d="M1204.1 2248.2 L1206.9 2248.3 L1209.7 2248.4 L1212.5 2248.5 L1213 2248.5" stroke="#00f"/>
<path d="M1248.5 2249.6 L1251.3 2249.7 L1254 2249.7 L1256.8 2249.8 L1259.6 2249.9 L1262.4 2250 L1265.1 2250.1 L1267.9 2250.1 L1270.7 2250.2 L1273.5 2250.3 L1276.2 2250.4 L1279 2250.5 L1281.8 2250.5 L1284.6 2250.6 L1287.3 2250.7 L1290.1 2250.8 L1292.9 2250.8 L1295.7 2250.9 L1298.4 2251 L1301.2 2251 L1304 2251.1 L1306.2 2251.2" stroke="#00f"/>
<path d="M1341.7 2252.1 L1344.5 2252.2 L1347.3 2252.2 L1350.1 2252.3 L1350.1 2252.3" stroke="#00f"/>
<path d="M1385.7 2253.2 L1388.4 2253.2 L1391.2 2253.3 L1394 2253.4 L1396.8 2253.4 L1399.6 2253.5 L1402.3 2253.6 L1405.1 2253.6 L1407.9 2253.7 L1410.7 2253.8 L1413.5 2253.8 L1416.3 2253.9 L1419 2254 L1421.8 2254 L1424.6 2254.1 L1427.4 2254.2 L1430.2 2254.2 L1433 2254.3 L1434.1 2254.3" stroke="#00f"/>
<path d="M345.8 2147 L346 2144.2 L346.3 2141.4 L346.6 2138.6 L346.8 2135.9 L347 2133.2 L347.2 2130.5 L347.4 2127.8 L347.6 2125.1 L347.8 2122.4 L347.9 2119.8 L348.1 2117.1 L348.3 2114.4 L348.5 2111.8 L348.6 2109.1 L348.8 2106.4 L349 2103.7 L349.2 2101 L349.4 2098.3 L349.6 2095.6 L349.9 2092.8 L350.1 2090.1 L350.4 2087.3 L350.7 2084.4 L351.1 2081.5 L351.4 2078.6 L351.8 2075.7 L352.2 2072.8 L352.7 2070.1 L353.2 2067.4 L354.8 2069.8 L355.3 2072.8 L355.7 2075.5 L356.1 2078.1 L356.6 2080.7 L357.1 2083.6 L357.6 2086.3 L358.1 2089 L358.7 2091.5 L359.2 2094.1 L359.7 2096.6 L360.3 2099.2 L360.8 2101.8 L361.4 2104.4 L361.9 2107 L362.5 2109.6 L363 2112.3 L363.6 2114.9 L364.1 2117.6 L364.6 2120.3 L365.2 2122.9 L365.7 2125.6 L366.3 2128.3 L366.8 2131 L367.3 2133.7 L367.9 2136.5 L368.4 2139.2 L368.9 2141.9 L369.4 2144.6 L370 2147.3 L370.5 2150.1 L371 2152.8 L371.5 2155.5 L372 2158.2 L372.5 2160.9 L372.9 2163.6 L373.4 2166.3 L373.9 2169 L374.4 2171.7 L374.9 2174.4 L375.4 2177.1 L375.8 2179.8 L376.3 2182.5 L376.8 2185.2 L377.3 2187.9 L377.8 2190.6 L378.3 2193.3 L378.8 2196 L379.3 2198.6 L379.9 2201.3 L380.4 2204 L380.9 2206.6 L381.5 2209.3 L382.1 2211.9 L382.6 2214.6 L383.2 2217.2 L383.8 2219.9 L384.4 2222.5 L385 2225.2 L385.7 2227.8 L386.3 2230.4 L387 2233 L387.7 2235.7 L388.4 2238.3 L389.1 2240.9 L389.9 2243.5 L390.6 2246.1 L391.4 2248.7 L392.2 2251.2 L393.1 2253.8 L393.9 2256.4 L394.8 2259 L395.7 2261.5 L396.6 2264.1 L397.6 2266.6 L398.5 2269.2 L399.5 2271.7 L400.6 2274.2 L401.6 2276.8 L402.7 2279.3 L403.9 2281.8 L405 2284.3 L406.2 2286.8 L407.4 2289.3 L408.7 2291.7 L410 2294.2 L411.3 2296.7 L412.7 2299.1 L414.1 2301.6 L415.5 2304 L417 2306.4 L418.5 2308.8 L420.1 2311.2 L421.7 2313.5 L423.4 2315.8 L425.1 2318 L426.8 2320.2 L428.6 2322.3 L430.5 2324.3 L432.4 2326.3 L434.4 2328.2 L436.4 2329.9 L438.5 2331.6 L440.7 2333.2 L442.9 2334.7 L445.2 2336 L447.5 2337.2 L450 2338.3 L452.4 2339.3 L454.9 2340.1 L457.4 2340.7 L460 2341.2 L462.6 2341.6 L465.2 2341.8 L467.9 2342 L470.5 2342 L473.2 2342 L475.9 2341.9 L478.7 2341.7 L481.4 2341.5 L484.1 2341.2 L486.9 2341 L489.6 2340.7 L492.3 2340.5 L495.1 2340.2 L497.8 2339.9 L500.6 2339.7 L503.3 2339.5 L506 2339.2 L508.8 2339 L511.5 2338.8 L514.3 2338.6 L517 2338.4 L519.7 2338.3 L522.5 2338.1 L525.2 2338 L528 2337.9 L530.7 2337.7 L533.4 2337.6 L536.2 2337.6 L538.9 2337.5 L541.6 2337.5 L544.4 2337.4 L547.1 2337.4 L549.9 2337.5 L552.6 2337.5 L555.3 2337.6 L558.1 2337.6 L560.8 2337.8 L563.5 2337.9 L566.3 2338 L569 2338.2 L571.7 2338.4 L574.5 2338.6 L577.2 2338.8 L579.9 2339 L582.7 2339.2 L585.4 2339.5 L588.1 2339.7 L590.9 2340 L593.6 2340.2 L596.3 2340.5 L599.1 2340.8 L601.8 2341 L604.5 2341.3 L607.3 2341.5 L610 2341.8 L612.7 2342 L615.5 2342.3 L618.2 2342.5 L620.9 2342.7 L623.7 2343 L626.4 2343.2 L629.1 2343.4 L631.8 2343.6 L634.6 2343.8 L637.3 2344 L640 2344.2 L642.8 2344.4 L645.5 2344.5 L648.2 2344.7 L651 2344.9 L653.7 2345 L656.4 2345.2 L659.1 2345.3 L661.9 2345.5 L664.6 2345.6 L667.3 2345.8 L670.1 2345.9 L672.8 2346 L675.5 2346.1 L678.2 2346.3 L681 2346.4 L683.7 2346.5 L686.4 2346.6 L689.2 2346.7 L691.9 2346.8 L694.6 2346.9 L697.3 2346.9 L700.1 2347 L702.8 2347.1 L705.5 2347.2 L708.3 2347.2 L711 2347.3 L713.7 2347.4 L716.4 2347.4 L719.2 2347.5 L721.9 2347.5 L724.6 2347.6 L727.3 2347.6 L730.1 2347.7 L732.8 2347.7 L735.5 2347.7 L738.3 2347.7 L741 2347.8 L743.7 2347.8 L746.4 2347.8 L749.2 2347.8 L751.9 2347.8 L754.6 2347.9 L757.3 2347.9 L760.1 2347.9 L762.8 2347.9 L765.5 2347.9 L768.3 2347.9 L771 2347.9 L773.7 2347.8 L776.4 2347.8 L779.2 2347.8 L781.9 2347.8 L784.6 2347.8 L787.3 2347.8 L790.1 2347.7 L792.8 2347.7 L795.5 2347.7 L798.3 2347.7 L801 2347.6 L803.7 2347.6 L806.4 2347.6 L809.2 2347.5 L811.9 2347.5 L814.6 2347.4 L817.3 2347.4 L820.1 2347.3 L822.8 2347.3 L825.5 2347.3 L828.3 2347.2 L831 2347.2 L833.7 2347.1 L836.4 2347.1 L839.2 2347 L841.9 2347 L844.6 2346.9 L847.4 2346.8 L850.1 2346.8 L852.8 2346.7 L855.5 2346.7 L858.3 2346.6 L861 2346.6 L863.7 2346.5 L866.5 2346.4 L869.2 2346.4 L871.9 2346.3 L874.6 2346.2 L877.4 2346.2 L880.1 2346.1 L882.8 2346 L885.6 2346 L888.3 2345.9 L891 2345.8 L893.7 2345.8 L896.5 2345.7 L899.2 2345.6 L901.9 2345.5 L904.7 2345.5 L907.4 2345.4 L910.1 2345.3 L912.9 2345.2 L915.6 2345.1 L918.3 2345.1 L921 2345 L923.8 2344.9 L926.5 2344.8 L929.2 2344.7 L932 2344.7 L934.7 2344.6 L937.4 2344.5 L940.2 2344.4 L942.9 2344.3 L945.6 2344.2 L948.4 2344.1 L951.1 2344 L953.8 2344 L956.5 2343.9 L959.3 2343.8 L962 2343.7 L964.7 2343.6 L967.5 2343.5 L970.2 2343.4 L972.9 2343.3 L975.7 2343.2 L978.4 2343.1 L981.1 2343 L983.9 2342.9 L986.6 2342.8 L989.3 2342.7 L992.1 2342.6 L994.8 2342.5 L997.5 2342.4 L1000.3 2342.3 L1003 2342.2 L1005.7 2342.1 L1008.4 2342 L1011.2 2341.9 L1013.9 2341.8 L1016.6 2341.7 L1019.4 2341.6 L1022.1 2341.5 L1024.8 2341.4 L1027.6 2341.3 L1030.3 2341.2 L1033 2341.1 L1035.8 2341 L1038.5 2340.9 L1041.2 2340.8 L1044 2340.7 L1046.7 2340.6 L1049.4 2340.4 L1052.2 2340.3 L1054.9 2340.2 L1057.6 2340.1 L1060.4 2340 L1063.1 2339.9 L1065.8 2339.8 L1068.6 2339.7 L1071.3 2339.6 L1074 2339.5 L1076.7 2339.3 L1079.5 2339.2 L1082.2 2339.1 L1084.9 2339 L1087.7 2338.9 L1090.4 2338.8 L1093.1 2338.7 L1095.9 2338.6 L1098.6 2338.4 L1101.3 2338.3 L1104.1 2338.2 L1106.8 2338.1 L1109.5 2338 L1112.3 2337.9 L1115 2337.8 L1117.7 2337.6 L1120.5 2337.5 L1123.2 2337.4 L1125.9 2337.3 L1128.7 2337.2 L1131.4 2337.1 L1134.1 2336.9 L1136.9 2336.8 L1139.6 2336.7 L1142.3 2336.6 L1145.1 2336.5 L1147.8 2336.4 L1150.5 2336.3 L1153.2 2336.1 L1156 2336 L1158.7 2335.9 L1161.4 2335.8 L1164.2 2335.7 L1166.9 2335.6 L1169.6 2335.4 L1172.4 2335.3 L1175.1 2335.2 L1177.8 2335.1 L1180.6 2335 L1183.3 2334.9 L1186 2334.8 L1188.8 2334.6 L1191.5 2334.5 L1194.2 2334.4 L1197 2334.3 L1199.7 2334.2 L1202.4 2334.1 L1205.2 2334 L1207.9 2333.8 L1210.6 2333.7 L1213.3 2333.6 L1216.1 2333.5 L1218.8 2333.4 L1221.5 2333.3 L1224.3 2333.2 L1227 2333 L1229.7 2332.9 L1232.5 2332.8 L1235.2 2332.7 L1237.9 2332.6 L1240.7 2332.5 L1243.4 2332.4 L1246.1 2332.3 L1248.9 2332.2 L1251.6 2332 L1254.3 2331.9 L1257 2331.8 L1259.8 2331.7 L1262.5 2331.6 L1265.2 2331.5 L1268 2331.4 L1270.7 2331.3 L1273.4 2331.2 L1276.2 2331.1 L1278.9 2331 L1281.6 2330.9 L1284.4 2330.7 L1287.1 2330.6 L1289.8 2330.5 L1292.5 2330.4 L1295.3 2330.3 L1298 2330.2 L1300.7 2330.1 L1303.5 2330 L1306.2 2329.9 L1308.9 2329.8 L1311.7 2329.7 L1314.4 2329.6 L1317.1 2329.5 L1319.8 2329.4 L1322.6 2329.3 L1325.3 2329.2 L1328 2329.1 L1330.8 2329 L1333.5 2328.9 L1336.2 2328.8 L1338.9 2328.7 L1341.7 2328.6 L1344.4 2328.6 L1347.1 2328.5 L1349.9 2328.4 L1352.6 2328.3 L1355.3 2328.2 L1358 2328.1 L1360.8 2328 L1363.5 2327.9 L1366.2 2327.8 L1369 2327.7 L1371.7 2327.6 L1374.4 2327.6 L1377.1 2327.5 L1379.9 2327.4 L1382.6 2327.3 L1385.3 2327.2 L1388 2327.1 L1390.8 2327.1 L1393.5 2327 L1396.2 2326.9 L1399 2326.8 L1401.7 2326.7 L1404.4 2326.7 L1407.1 2326.6 L1409.9 2326.5 L1412.6 2326.4 L1415.3 2326.4 L1418 2326.3 L1420.8 2326.2 L1423.5 2326.1 L1426.2 2326.1 L1428.9 2326 L1431.7 2325.9 L1433.9 2325.9" stroke="#000"/>
<path d="M345.8 2147 L346 2144.2 L346.3 2141.4 L346.6 2138.6 L346.6 2138.3" stroke="#0f0"/>
<path d="M350.8 2083.6 L351.1 2081.1 L351.5 2078.1 L351.9 2075.2 L351.9 2074.7" stroke="#0f0"/>
<path d="M363.4 2114.1 L363.9 2116.7 L364.5 2119.4 L365 2122.1 L365.2 2122.9" stroke="#0f0"/>
<path d="M375.3 2176.8 L375.8 2179.4 L376.2 2182.1 L376.7 2184.8 L376.9 2185.6" stroke="#0f0"/>
<path d="M388.9 2240 L389.6 2242.6 L390.4 2245.2 L391.2 2247.8 L391.4 2248.7" stroke="#0f0"/>
<path d="M411.2 2296.4 L412.4 2298.7 L413.8 2301.2 L415.3 2303.6 L415.7 2304.2" stroke="#0f0"/>
<path d="M451.1 2338.8 L453.7 2339.7 L456.2 2340.4 L458.7 2341 L459.7 2341.2" stroke="#0f0"/>
<path d="M511.1 2338.8 L513.8 2338.7 L516.5 2338.5 L519.3 2338.3 L520.1 2338.2" stroke="#0f0"/>
<path d="M570.4 2338.3 L573.1 2338.5 L575.8 2338.7 L578.6 2338.9 L579.4 2339" stroke="#0f0"/>
<path d="M635.1 2343.8 L637.8 2344 L640.5 2344.2 L643.2 2344.4 L644.1 2344.4" stroke="#0f0"/>
<path d="M700.1 2347 L702.8 2347.1 L705.5 2347.2 L708.3 2347.2 L709.1 2347.3" stroke="#0f0"/>
<path d="M765.1 2347.9 L767.8 2347.9 L770.5 2347.9 L773.3 2347.8 L774.1 2347.8" stroke="#0f0"/>
<path d="M830.1 2347.2 L832.8 2347.1 L835.5 2347.1 L838.3 2347 L839.1 2347" stroke="#0f0"/>
<path d="M894.7 2345.7 L897.4 2345.7 L900.1 2345.6 L902.8 2345.5 L903.7 2345.5" stroke="#0f0"/>
<path d="M960.2 2343.7 L962.9 2343.7 L965.7 2343.6 L968.4 2343.5 L969.2 2343.4" stroke="#0f0"/>
<path d="M1024.9 2341.4 L1027.6 2341.3 L1030.3 2341.2 L1033 2341.1 L1033.9 2341.1" stroke="#0f0"/>
<path d="M1090 2338.8 L1092.7 2338.7 L1095.4 2338.6 L1098.2 2338.5 L1099 2338.4" stroke="#0f0"/>
<path d="M1154.7 2336.1 L1157.3 2336 L1160.1 2335.9 L1162.8 2335.7 L1163.7 2335.7" stroke="#0f0"/>
<path d="M1219.8 2333.3 L1222.5 2333.2 L1225.2 2333.1 L1227.9 2333 L1228.8 2333" stroke="#0f0"/>
<path d="M1284.4 2330.7 L1287.1 2330.6 L1289.8 2330.5 L1292.5 2330.4 L1293.4 2330.4" stroke="#0f0"/>
<path d="M1349.9 2328.4 L1352.6 2328.3 L1355.3 2328.2 L1358 2328.1 L1358.9 2328.1" stroke="#0f0"/>
<path d="M1414.9 2326.4 L1417.6 2326.3 L1420.3 2326.2 L1423 2326.2 L1423.9 2326.1" stroke="#0f0"/>
</g>
<g font-family='"Liberation Serif", "Times New Roman", serif' fill="#000">
<text transform="translate(806.2 2721.3) scale(0.905 1)" font-size="86">(</text>
<text transform="translate(834.6 2721.3) scale(1 1)" font-size="90" font-weight="bold">b</text>
<text transform="translate(884.1 2721.3) scale(0.905 1)" font-size="86">)</text>
</g>
<g fill="#000" shape-rendering="crispEdges">
<rect x="286" y="2947" width="8" height="975"/>
<rect x="286" y="3914" width="1209" height="8"/>
<rect x="270" y="2947" width="16" height="8"/>
<rect x="280" y="3068" width="6" height="8"/>
<rect x="270" y="3189" width="16" height="8"/>
<rect x="280" y="3310" width="6" height="8"/>
<rect x="270" y="3430" width="16" height="8"/>
<rect x="280" y="3551" width="6" height="8"/>
<rect x="270" y="3672" width="16" height="8"/>
<rect x="280" y="3793" width="6" height="8"/>
<rect x="270" y="3914" width="16" height="8"/>
<rect x="286" y="3922" width="8" height="16"/>
<rect x="361" y="3922" width="8" height="6"/>
<rect x="436" y="3922" width="8" height="16"/>
<rect x="511" y="3922" width="8" height="6"/>
<rect x="586" y="3922" width="8" height="16"/>
<rect x="661" y="3922" width="8" height="6"/>
<rect x="736" y="3922" width="8" height="16"/>
<rect x="811" y="3922" width="8" height="6"/>
<rect x="886" y="3922" width="8" height="16"/>
<rect x="962" y="3922" width="8" height="6"/>
<rect x="1037" y="3922" width="8" height="16"/>
<rect x="1112" y="3922" width="8" height="6"/>
<rect x="1187" y="3922" width="8" height="16"/>
<rect x="1262" y="3922" width="8" height="6"/>
<rect x="1337" y="3922" width="8" height="16"/>
<rect x="1412" y="3922" width="8" height="6"/>
<rect x="1487" y="3922" width="8" height="16"/>
</g>
<g font-family='"Liberation Sans", Arial, Helvetica, sans-serif' font-weight="bold" font-size="64" fill="#000">
<text transform="translate(257.7 2970.4) scale(1 1.03)" text-anchor="end">0.15</text>
<text transform="translate(257.7 3212.2) scale(1 1.03)" text-anchor="end">0.10</text>
<text transform="translate(257.7 3453.9) scale(1 1.03)" text-anchor="end">0.05</text>
<text transform="translate(257.7 3695.7) scale(1 1.03)" text-anchor="end">0.00</text>
<text transform="translate(257.7 3937.4) scale(1 1.03)" text-anchor="end">-0.05</text>
<text transform="translate(290 3999.9) scale(1 1.03)" text-anchor="middle">300</text>
<text transform="translate(440.1 3999.9) scale(1 1.03)" text-anchor="middle">600</text>
<text transform="translate(590.2 3999.9) scale(1 1.03)" text-anchor="middle">900</text>
<text transform="translate(740.4 3999.9) scale(1 1.03)" text-anchor="middle">1200</text>
<text transform="translate(890.5 3999.9) scale(1 1.03)" text-anchor="middle">1500</text>
<text transform="translate(1040.6 3999.9) scale(1 1.03)" text-anchor="middle">1800</text>
<text transform="translate(1190.8 3999.9) scale(1 1.03)" text-anchor="middle">2100</text>
<text transform="translate(1340.9 3999.9) scale(1 1.03)" text-anchor="middle">2400</text>
<text transform="translate(1491 3999.9) scale(1 1.03)" text-anchor="middle">2700</text>
<text transform="translate(634.3 4105.4) scale(1 1.03)">Wavelength (nm)</text>
<text transform="translate(74 3743.5) rotate(-90) scale(1 1.03)">Refrective Index</text>
<text transform="translate(74 3231) rotate(-90) scale(1 1.03)" font-size="62" font-weight="bold">(</text>
<text transform="translate(74 3213.4) rotate(-90) scale(1.2 1.03)" font-size="55" font-weight="bold">η</text>
<text transform="translate(87.9 3170.8) rotate(-90) scale(1 1.03)" font-size="64" font-weight="bold">r</text>
<text transform="translate(74 3144.1) rotate(-90) scale(1 1.03)" font-size="62" font-weight="bold">)</text>
<text transform="translate(718.5 3169.1) scale(1 1.03)">Real part (TE)</text>
<text transform="translate(718.5 3250.2) scale(1 1.03)">Imaginary part (TE)</text>
<text transform="translate(718.5 3331.3) scale(1 1.03)">Real part (TM)</text>
<text transform="translate(718.5 3411.2) scale(1 1.03)">Imaginary part (TM)</text>
</g>
<g shape-rendering="crispEdges">
<rect x="589" y="3146.3" width="112.9" height="12.3" fill="#000"/>
<rect x="589" y="3227.2" width="52.2" height="12.3" fill="#f00"/>
<rect x="589" y="3307.9" width="9.6" height="12.3" fill="#0f0"/>
<rect x="661.2" y="3307.9" width="9.6" height="12.3" fill="#0f0"/>
<rect x="589" y="3388.4" width="64.2" height="12.3" fill="#00f"/>
<rect x="692.3" y="3388.4" width="9.6" height="12.3" fill="#00f"/>
</g>
<clipPath id="cpc"><rect x="289" y="2951" width="1202.5" height="967"/></clipPath>
<g clip-path="url(#cpc)" fill="none" stroke-width="12.3" stroke-linecap="butt" stroke-linejoin="round" shape-rendering="crispEdges">
<path d="M309.8 3108.8 L310.3 3111.3 L310.8 3113.8 L311.3 3116.3 L311.9 3118.8 L312.4 3121.3 L312.9 3123.8 L313.5 3126.3 L314 3128.8 L314.5 3131.3 L315.1 3133.8 L315.6 3136.3 L316.2 3138.8 L316.7 3141.2" stroke="#f00"/>
<path d="M338.8 3221 L339.6 3223.4 L340.5 3225.8 L341.4 3228.2 L342.2 3230.6 L343.1 3232.9 L344.1 3235.3 L344.6 3236.7" stroke="#f00"/>
<path d="M348 3245.2 L349 3247.6 L350 3249.9 L351 3252.2 L352 3254.6 L353 3256.9 L354 3259.2 L355.1 3261.5 L356.1 3263.8 L356.1 3263.8" stroke="#f00"/>
<path d="M388.8 3321.3 L390.2 3323.3 L391.6 3325.4 L393.1 3327.5 L394.6 3329.6 L396.1 3331.6 L397.6 3333.7 L399.1 3335.7 L400.7 3337.8 L402.2 3339.8 L403.8 3341.8 L405.4 3343.8 L407 3345.8 L408.6 3347.8 L410.2 3349.7 L410.8 3350.5" stroke="#f00"/>
<path d="M488.3 3423.2 L490.3 3424.7 L492.4 3426.2 L494.4 3427.7 L494.8 3428" stroke="#f00"/>
<path d="M649.1 3504 L651.6 3504.8 L654 3505.6 L656.4 3506.4 L658.8 3507.2 L661.2 3507.9 L663.7 3508.7 L666.1 3509.4 L668.5 3510.2 L671 3510.9 L673.4 3511.6 L675.8 3512.3 L678.3 3513 L678.8 3513.2" stroke="#f00"/>
<path d="M768.9 3534.8 L771.3 3535.3 L773.8 3535.8 L776.3 3536.3 L778.8 3536.8 L781.3 3537.3" stroke="#f00"/>
<path d="M788.4 3538.7 L790.8 3539.1 L793.3 3539.6 L795.8 3540.1 L798.3 3540.6 L800.9 3541 L803.4 3541.5 L805.9 3541.9 L808.4 3542.4 L810.9 3542.9 L813.4 3543.3 L815.9 3543.7 L818.4 3544.2 L820.9 3544.6 L821.9 3544.8" stroke="#f00"/>
<path d="M890.8 3555.6 L893.3 3556 L895.9 3556.3 L898.4 3556.7 L900.9 3557 L903.4 3557.4 L905.9 3557.7 L908.5 3558 L911 3558.4 L913.5 3558.7 L916 3559 L918.6 3559.4 L921.1 3559.7 L923.6 3560 L926.1 3560.3 L928.7 3560.7 L931.2 3561 L931.7 3561" stroke="#f00"/>
<path d="M1042.6 3572.9 L1045.1 3573.1 L1047.6 3573.3 L1050.2 3573.6 L1052.7 3573.8 L1055.2 3574 L1057.8 3574.2 L1060.3 3574.5 L1062.3 3574.6" stroke="#f00"/>
<path d="M1129.8 3579.9 L1132.4 3580.1 L1133.4 3580.1" stroke="#f00"/>
<path d="M1250.8 3587.2 L1253.4 3587.3 L1255.9 3587.5 L1258.4 3587.6 L1261 3587.7 L1263.5 3587.9 L1266.1 3588 L1268.6 3588.1 L1271.2 3588.2 L1273.7 3588.4 L1276.2 3588.5 L1278.8 3588.6 L1281.3 3588.7 L1283.9 3588.9 L1284.9 3588.9" stroke="#f00"/>
<path d="M1371.9 3592.9 L1374.4 3593 L1377 3593.1 L1379.5 3593.2 L1382.1 3593.4 L1384.6 3593.5 L1387.2 3593.6 L1388.6 3593.6" stroke="#f00"/>
<path d="M1395.3 3593.9 L1397.8 3594 L1400.4 3594.1 L1402.9 3594.3 L1405.5 3594.4 L1408 3594.5 L1410.6 3594.6 L1413.1 3594.7 L1415.6 3594.8 L1418.2 3594.9 L1420.7 3595 L1423.3 3595.1 L1424.8 3595.2" stroke="#f00"/>
<path d="M291.1 2991.4 L291.3 2994.4 L291.5 2997.4 L291.6 2999.9 L291.8 3002.4 L292 3004.9 L292.3 3007.4 L292.5 3009.9 L292.8 3012.4 L293 3014.9 L293.3 3017.4 L293.6 3019.9 L293.9 3022.4 L294.2 3024.9 L294.6 3027.4 L294.9 3029.9 L295.3 3032.4 L295.6 3034.9 L296 3037.4 L296.4 3040 L296.8 3042.5 L297.2 3045 L297.6 3047.5 L298.1 3050 L298.5 3052.5 L298.8 3054" stroke="#00f"/>
<path d="M306.1 3091.2 L306.6 3093.7 L307.1 3096.3 L307.6 3098.8 L308.2 3101.3 L308.4 3102.3" stroke="#00f"/>
<path d="M316.4 3139.7 L317 3142.2 L317.5 3144.7 L318.1 3147.2 L318.6 3149.7 L319.2 3152.2 L319.8 3154.6 L320.4 3157.1 L321 3159.6 L321.5 3162.1 L322.2 3164.5 L322.8 3167 L323.4 3169.5 L324 3171.9 L324.6 3174.4 L325.3 3176.8 L325.9 3179.3 L326.6 3181.7 L327.2 3184.2 L327.9 3186.6 L328.6 3189.1 L329.3 3191.5 L330 3193.9 L330.7 3196.4 L331.5 3198.8 L331.6 3199.3" stroke="#00f"/>
<path d="M344.1 3235.3 L345 3237.7 L345.9 3240 L346.9 3242.4 L347.8 3244.8 L348.6 3246.6" stroke="#00f"/>
<path d="M362.3 3276.6 L363.4 3278.9 L364.6 3281.1 L365.8 3283.4 L367 3285.6 L368.2 3287.8 L369.4 3290.1 L370.7 3292.3 L371.9 3294.5 L373.2 3296.7 L374.5 3298.9 L375.8 3301.1 L377.1 3303.3 L378.5 3305.4 L379.8 3307.6 L381.2 3309.7 L382.5 3311.9 L383.9 3314 L385.3 3316.2 L386.7 3318.3 L388.2 3320.4 L389.6 3322.5 L389.6 3322.5" stroke="#00f"/>
<path d="M409.9 3349.4 L411.5 3351.3 L413.1 3353.3 L414.8 3355.2 L416.4 3357.1 L416.8 3357.5" stroke="#00f"/>
<path d="M441.6 3383.8 L443.4 3385.5 L445.3 3387.3 L447.1 3389 L449 3390.8 L450.9 3392.5 L452.7 3394.2 L454.6 3395.9 L456.5 3397.6 L458.5 3399.3 L460.4 3401 L462.3 3402.6 L464.2 3404.3 L466.2 3405.9 L468.2 3407.5 L470.1 3409.1 L472.1 3410.7 L474.1 3412.3 L476.1 3413.9 L478.1 3415.5 L480.1 3417.1 L482.1 3418.6 L484.2 3420.1 L486.2 3421.7 L488.2 3423.2 L489.5 3424.1" stroke="#00f"/>
<path d="M522.5 3446.2 L524.7 3447.6 L526.8 3448.9 L529 3450.2 L531.2 3451.5 L531.7 3451.8" stroke="#00f"/>
<path d="M535.2 3453.8 L537.4 3455.1 L539.6 3456.3 L541.9 3457.6 L544.1 3458.8 L546.3 3460 L548.6 3461.3 L550.8 3462.5 L553.1 3463.7 L555.3 3464.8 L557.6 3466 L559.9 3467.2 L562.1 3468.3 L564.4 3469.5 L566.7 3470.6 L569 3471.7 L571.3 3472.8 L573.6 3473.9 L575.9 3475 L578.2 3476.1 L580.5 3477.2 L582.8 3478.2 L585.1 3479.3 L587.5 3480.3 L589.8 3481.4 L592.1 3482.4 L593.5 3483" stroke="#00f"/>
<path d="M628.5 3496.9 L630.9 3497.7 L633.3 3498.6 L635.7 3499.4 L638.1 3500.3 L640.5 3501.1 L640.5 3501.1" stroke="#00f"/>
<path d="M677.3 3512.8 L679.8 3513.5 L682.2 3514.2 L684.6 3514.8 L687.1 3515.5 L689.5 3516.2 L692 3516.9 L694.5 3517.5 L696.9 3518.2 L699.4 3518.8 L701.8 3519.5 L704.3 3520.1 L706.8 3520.8 L709.2 3521.4 L711.7 3522 L714.2 3522.6 L716.6 3523.2 L719.1 3523.8 L721.6 3524.4 L724.1 3525 L726.5 3525.6 L729 3526.2 L731.5 3526.7 L734 3527.3 L736.5 3527.9 L739 3528.4 L741.4 3529 L741.4 3529" stroke="#00f"/>
<path d="M779.8 3537 L782.3 3537.5 L784.8 3538 L787.3 3538.5 L789.8 3539 L789.8 3539" stroke="#00f"/>
<path d="M827.9 3545.8 L830.4 3546.3 L832.9 3546.7 L835.5 3547.1 L838 3547.5 L840.5 3547.9 L843 3548.3 L845.5 3548.8 L848 3549.2 L850.5 3549.6 L853 3550 L855.6 3550.4 L858.1 3550.8 L860.6 3551.1 L863.1 3551.5 L865.6 3551.9 L868.1 3552.3 L870.7 3552.7 L873.2 3553.1 L875.7 3553.4 L878.2 3553.8 L880.7 3554.2 L883.2 3554.5 L885.8 3554.9 L888.3 3555.3 L890.8 3555.6 L892.3 3555.8" stroke="#00f"/>
<path d="M930.2 3560.8 L932.7 3561.2 L935.2 3561.5 L937.8 3561.8 L940.3 3562.1 L940.8 3562.2" stroke="#00f"/>
<path d="M979.2 3566.6 L981.8 3566.9 L984.3 3567.1 L986.8 3567.4 L989.4 3567.7 L991.9 3567.9 L994.4 3568.2 L996.9 3568.5 L999.5 3568.7 L1002 3569 L1004.5 3569.2 L1007.1 3569.5 L1009.6 3569.7 L1012.1 3570 L1014.7 3570.2 L1017.2 3570.5 L1019.7 3570.7 L1022.3 3571 L1024.8 3571.2 L1027.3 3571.5 L1029.9 3571.7 L1032.4 3571.9 L1034.9 3572.2 L1037.5 3572.4 L1040 3572.7 L1042.5 3572.9 L1044.1 3573" stroke="#00f"/>
<path d="M1082.6 3576.3 L1085.2 3576.5 L1087.7 3576.7 L1090.2 3576.9 L1092.8 3577.1 L1092.8 3577.1" stroke="#00f"/>
<path d="M1131.9 3580 L1134.4 3580.2 L1136.9 3580.4 L1139.5 3580.6 L1142 3580.7 L1144.6 3580.9 L1147.1 3581.1 L1149.6 3581.2 L1152.2 3581.4 L1154.7 3581.6 L1157.3 3581.8 L1159.8 3581.9 L1162.3 3582.1 L1164.9 3582.2 L1167.4 3582.4 L1170 3582.6 L1172.5 3582.7 L1175.1 3582.9 L1177.6 3583 L1180.1 3583.2 L1182.7 3583.4 L1185.2 3583.5 L1187.8 3583.7 L1190.3 3583.8 L1192.8 3584 L1195.4 3584.1 L1195.9 3584.2" stroke="#00f"/>
<path d="M1235 3586.4 L1237.6 3586.5 L1240.1 3586.6 L1242.7 3586.8 L1245.2 3586.9 L1245.2 3586.9" stroke="#00f"/>
<path d="M1283.4 3588.8 L1285.9 3589 L1288.5 3589.1 L1291 3589.2 L1293.5 3589.3 L1296.1 3589.5 L1298.6 3589.6 L1301.2 3589.7 L1303.7 3589.8 L1306.3 3589.9 L1308.8 3590.1 L1311.3 3590.2 L1313.9 3590.3 L1316.4 3590.4 L1319 3590.5 L1321.5 3590.6 L1324.1 3590.8 L1326.6 3590.9 L1329.2 3591 L1331.7 3591.1 L1334.2 3591.2 L1336.8 3591.3 L1339.3 3591.5 L1341.9 3591.6 L1344.4 3591.7 L1347 3591.8 L1348 3591.8" stroke="#00f"/>
<path d="M1387.2 3593.6 L1389.7 3593.7 L1392.2 3593.8 L1394.8 3593.9 L1396.8 3594" stroke="#00f"/>
<path d="M1436 3595.7 L1438.5 3595.8 L1441.1 3595.9 L1443.6 3596 L1446.2 3596.1 L1448.7 3596.3 L1451.2 3596.4 L1453.8 3596.5 L1456.3 3596.6 L1458.9 3596.7 L1461.4 3596.8 L1463.9 3596.9 L1466.5 3597.1 L1469 3597.2 L1471.6 3597.3 L1474.1 3597.4 L1476.7 3597.5 L1479.2 3597.6 L1481.7 3597.7 L1484.3 3597.9 L1486.8 3598 L1489.4 3598.1 L1491.9 3598.2 L1494.5 3598.3 L1497 3598.4 L1497 3598.4" stroke="#00f"/>
<path d="M290.3 3777.7 L291.8 3780 L293.4 3782.4 L294.9 3784.8 L296.3 3787.2 L297.8 3789.7 L299.2 3792.2 L300.7 3794.7 L302.1 3797.3 L303.3 3799.5 L304.5 3801.7 L305.7 3803.9 L307 3806.1 L308.2 3808.4 L309.4 3810.6 L310.6 3812.9 L311.9 3815.1 L313.1 3817.4 L314.3 3819.6 L315.6 3821.9 L316.9 3824.1 L318.2 3826.4 L319.5 3828.6 L320.8 3830.8 L322.1 3833.1 L323.5 3835.3 L324.9 3837.5 L326.3 3839.6 L327.7 3841.8 L329.2 3844 L330.7 3846.1 L332.2 3848.2 L333.7 3850.3 L335.3 3852.3 L336.9 3854.4 L338.5 3856.4 L340.2 3858.3 L341.9 3860.3 L343.7 3862.2 L345.4 3864 L347.2 3865.9 L349.1 3867.7 L350.9 3869.5 L352.8 3871.2 L354.8 3872.9 L356.7 3874.5 L358.7 3876.1 L360.7 3877.7 L362.8 3879.2 L364.9 3880.7 L367 3882.1 L369.1 3883.5 L371.3 3884.8 L373.5 3886.1 L375.7 3887.3 L377.9 3888.5 L380.2 3889.6 L382.5 3890.7 L384.8 3891.7 L387.2 3892.6 L389.5 3893.5 L391.9 3894.3 L394.3 3895.1 L396.8 3895.8 L399.2 3896.5 L401.7 3897.1 L404.2 3897.7 L406.7 3898.2 L409.2 3898.7 L411.7 3899.1 L414.2 3899.4 L416.7 3899.8 L419.2 3900 L421.7 3900.3 L424.2 3900.4 L426.7 3900.6 L429.2 3900.7 L431.8 3900.8 L434.3 3900.8 L436.8 3900.8 L439.3 3900.8 L441.8 3900.7 L444.3 3900.7 L446.8 3900.5 L449.3 3900.4 L451.9 3900.3 L454.4 3900.1 L456.9 3899.9 L459.4 3899.7 L461.9 3899.5 L464.4 3899.2 L466.9 3899 L469.5 3898.7 L472 3898.4 L474.5 3898.2 L477 3897.9 L479.5 3897.6 L482 3897.3 L484.6 3897 L487.1 3896.8 L489.6 3896.5 L492.1 3896.2 L494.6 3895.9 L497.1 3895.6 L499.7 3895.4 L502.2 3895.1 L504.7 3894.8 L507.2 3894.5 L509.7 3894.3 L512.3 3894 L514.8 3893.7 L517.3 3893.4 L519.8 3893.1 L522.3 3892.9 L524.9 3892.6 L527.4 3892.3 L529.9 3892 L532.4 3891.8 L535 3891.5 L537.5 3891.2 L540 3890.9 L542.5 3890.6 L545 3890.3 L547.6 3890.1 L550.1 3889.8 L552.6 3889.5 L555.1 3889.2 L557.7 3888.9 L560.2 3888.6 L562.7 3888.3 L565.2 3888 L567.8 3887.8 L570.3 3887.5 L572.8 3887.2 L575.3 3886.9 L577.8 3886.6 L580.4 3886.3 L582.9 3886 L585.4 3885.7 L587.9 3885.4 L590.5 3885.1 L593 3884.8 L595.5 3884.5 L598.1 3884.2 L600.6 3883.9 L603.1 3883.6 L605.6 3883.3 L608.2 3883 L610.7 3882.7 L613.2 3882.4 L615.7 3882.1 L618.3 3881.8 L620.8 3881.4 L623.3 3881.1 L625.8 3880.8 L628.4 3880.5 L630.9 3880.2 L633.4 3879.9 L636 3879.6 L638.5 3879.3 L641 3879 L643.5 3878.7 L646.1 3878.4 L648.6 3878 L651.1 3877.7 L653.6 3877.4 L656.2 3877.1 L658.7 3876.8 L661.2 3876.5 L663.8 3876.2 L666.3 3875.9 L668.8 3875.6 L671.3 3875.2 L673.9 3874.9 L676.4 3874.6 L678.9 3874.3 L681.5 3874 L684 3873.7 L686.5 3873.4 L689 3873.1 L691.6 3872.7 L694.1 3872.4 L696.6 3872.1 L699.2 3871.8 L701.7 3871.5 L704.2 3871.2 L706.7 3870.9 L709.3 3870.6 L711.8 3870.2 L714.3 3869.9 L716.9 3869.6 L719.4 3869.3 L721.9 3869 L724.4 3868.7 L727 3868.4 L729.5 3868.1 L732 3867.8 L734.6 3867.4 L737.1 3867.1 L739.6 3866.8 L742.1 3866.5 L744.7 3866.2 L747.2 3865.9 L749.7 3865.6 L752.3 3865.3 L754.8 3865 L757.3 3864.7 L759.8 3864.4 L762.4 3864.1 L764.9 3863.8 L767.4 3863.5 L770 3863.2 L772.5 3862.8 L775 3862.5 L777.5 3862.2 L780.1 3861.9 L782.6 3861.6 L785.1 3861.3 L787.6 3861 L790.2 3860.7 L792.7 3860.4 L795.2 3860.1 L797.8 3859.8 L800.3 3859.5 L802.8 3859.3 L805.3 3859 L807.9 3858.7 L810.4 3858.4 L812.9 3858.1 L815.4 3857.8 L818 3857.5 L820.5 3857.2 L823 3856.9 L825.6 3856.6 L828.1 3856.3 L830.6 3856 L833.1 3855.7 L835.7 3855.4 L838.2 3855.1 L840.7 3854.8 L843.2 3854.6 L845.8 3854.3 L848.3 3854 L850.8 3853.7 L853.3 3853.4 L855.9 3853.1 L858.4 3852.8 L860.9 3852.5 L863.5 3852.3 L866 3852 L868.5 3851.7 L871 3851.4 L873.6 3851.1 L876.1 3850.8 L878.6 3850.6 L881.1 3850.3 L883.7 3850 L886.2 3849.7 L888.7 3849.4 L891.2 3849.1 L893.8 3848.9 L896.3 3848.6 L898.8 3848.3 L901.3 3848 L903.9 3847.7 L906.4 3847.5 L908.9 3847.2 L911.5 3846.9 L914 3846.6 L916.5 3846.4 L919 3846.1 L921.6 3845.8 L924.1 3845.5 L926.6 3845.3 L929.1 3845 L931.7 3844.7 L934.2 3844.4 L936.7 3844.2 L939.2 3843.9 L941.8 3843.6 L944.3 3843.3 L946.8 3843.1 L949.3 3842.8 L951.9 3842.5 L954.4 3842.3 L956.9 3842 L959.4 3841.7 L962 3841.4 L964.5 3841.2 L967 3840.9 L969.5 3840.6 L972.1 3840.4 L974.6 3840.1 L977.1 3839.8 L979.7 3839.6 L982.2 3839.3 L984.7 3839 L987.2 3838.8 L989.8 3838.5 L992.3 3838.2 L994.8 3838 L997.3 3837.7 L999.9 3837.4 L1002.4 3837.2 L1004.9 3836.9 L1007.4 3836.7 L1010 3836.4 L1012.5 3836.1 L1015 3835.9 L1017.5 3835.6 L1020.1 3835.4 L1022.6 3835.1 L1025.1 3834.8 L1027.6 3834.6 L1030.2 3834.3 L1032.7 3834.1 L1035.2 3833.8 L1037.7 3833.5 L1040.3 3833.3 L1042.8 3833 L1045.3 3832.8 L1047.9 3832.5 L1050.4 3832.3 L1052.9 3832 L1055.4 3831.7 L1058 3831.5 L1060.5 3831.2 L1063 3831 L1065.5 3830.7 L1068.1 3830.5 L1070.6 3830.2 L1073.1 3830 L1075.6 3829.7 L1078.2 3829.5 L1080.7 3829.2 L1083.2 3829 L1085.7 3828.7 L1088.3 3828.5 L1090.8 3828.2 L1093.3 3828 L1095.9 3827.7 L1098.4 3827.5 L1100.9 3827.2 L1103.4 3827 L1106 3826.7 L1108.5 3826.5 L1111 3826.2 L1113.5 3826 L1116.1 3825.7 L1118.6 3825.5 L1121.1 3825.2 L1123.6 3825 L1126.2 3824.7 L1128.7 3824.5 L1131.2 3824.2 L1133.8 3824 L1136.3 3823.8 L1138.8 3823.5 L1141.3 3823.3 L1143.9 3823 L1146.4 3822.8 L1148.9 3822.5 L1151.4 3822.3 L1154 3822.1 L1156.5 3821.8 L1159 3821.6 L1161.6 3821.3 L1164.1 3821.1 L1166.6 3820.9 L1169.1 3820.6 L1171.7 3820.4 L1174.2 3820.1 L1176.7 3819.9 L1179.2 3819.7 L1181.8 3819.4 L1184.3 3819.2 L1186.8 3818.9 L1189.4 3818.7 L1191.9 3818.5 L1194.4 3818.2 L1196.9 3818 L1199.5 3817.8 L1202 3817.5 L1204.5 3817.3 L1207.1 3817 L1209.6 3816.8 L1212.1 3816.6 L1214.6 3816.3 L1217.2 3816.1 L1219.7 3815.9 L1222.2 3815.6 L1224.8 3815.4 L1227.3 3815.2 L1229.8 3814.9 L1232.3 3814.7 L1234.9 3814.5 L1237.4 3814.2 L1239.9 3814 L1242.5 3813.8 L1245 3813.5 L1247.5 3813.3 L1250 3813.1 L1252.6 3812.9 L1255.1 3812.6 L1257.6 3812.4 L1260.2 3812.2 L1262.7 3811.9 L1265.2 3811.7 L1267.7 3811.5 L1270.3 3811.2 L1272.8 3811 L1275.3 3810.8 L1277.9 3810.6 L1280.4 3810.3 L1282.9 3810.1 L1285.5 3809.9 L1288 3809.7 L1290.5 3809.4 L1293.1 3809.2 L1295.6 3809 L1298.1 3808.7 L1300.6 3808.5 L1303.2 3808.3 L1305.7 3808.1 L1308.2 3807.8 L1310.8 3807.6 L1313.3 3807.4 L1315.8 3807.2 L1318.4 3806.9 L1320.9 3806.7 L1323.4 3806.5 L1326 3806.3 L1328.5 3806.1 L1331 3805.8 L1333.5 3805.6 L1336.1 3805.4 L1338.6 3805.2 L1341.1 3804.9 L1343.7 3804.7 L1346.2 3804.5 L1348.7 3804.3 L1351.3 3804.1 L1353.8 3803.8 L1356.3 3803.6 L1358.9 3803.4 L1361.4 3803.2 L1363.9 3803 L1366.5 3802.7 L1369 3802.5 L1371.5 3802.3 L1374.1 3802.1 L1376.6 3801.9 L1379.1 3801.6 L1381.7 3801.4 L1384.2 3801.2 L1386.7 3801 L1389.3 3800.8 L1391.8 3800.6 L1394.3 3800.3 L1396.9 3800.1 L1399.4 3799.9 L1401.9 3799.7 L1404.5 3799.5 L1407 3799.3 L1409.5 3799 L1412.1 3798.8 L1414.6 3798.6 L1417.1 3798.4 L1419.7 3798.2 L1422.2 3798 L1424.8 3797.7 L1427.3 3797.5 L1429.8 3797.3 L1432.4 3797.1 L1434.9 3796.9 L1437.4 3796.7 L1440 3796.5 L1442.5 3796.2 L1445 3796 L1447.6 3795.8 L1450.1 3795.6 L1452.6 3795.4 L1455.2 3795.2 L1457.7 3795 L1460.3 3794.8 L1462.8 3794.5 L1465.3 3794.3 L1467.9 3794.1 L1470.4 3793.9 L1472.9 3793.7 L1475.5 3793.5 L1478 3793.3 L1480.6 3793.1 L1483.1 3792.9 L1485.6 3792.6 L1488.2 3792.4 L1490.7 3792.2 L1493.2 3792 L1495.8 3791.8 L1497.1 3791.7" stroke="#000"/>
<path d="M290.3 3777.7 L291.8 3780 L293.4 3782.4 L294.3 3783.9" stroke="#0f0"/>
<path d="M317.6 3825.4 L319 3827.9 L320.4 3830.1 L321.7 3832.3 L322.7 3834" stroke="#0f0"/>
<path d="M359.1 3876.4 L361.4 3878.2 L363.5 3879.7 L365.6 3881.2 L367.2 3882.3" stroke="#0f0"/>
<path d="M410.9 3898.9 L413.8 3899.4 L416.3 3899.7 L418.8 3900 L420.8 3900.2" stroke="#0f0"/>
<path d="M477.9 3897.8 L480.8 3897.5 L483.3 3897.2 L485.8 3896.9 L487.8 3896.7" stroke="#0f0"/>
<path d="M535.9 3891.4 L538.7 3891.1 L541.3 3890.8 L543.8 3890.5 L545.8 3890.3" stroke="#0f0"/>
<path d="M606.1 3883.2 L609 3882.9 L611.5 3882.6 L614.1 3882.3 L616.1 3882" stroke="#0f0"/>
<path d="M678.2 3874.4 L681 3874 L683.6 3873.7 L686.1 3873.4 L688.1 3873.2" stroke="#0f0"/>
<path d="M749.8 3865.6 L752.7 3865.2 L755.2 3864.9 L757.7 3864.6 L759.7 3864.4" stroke="#0f0"/>
<path d="M821 3857.1 L823.9 3856.8 L826.4 3856.5 L828.9 3856.2 L830.9 3856" stroke="#0f0"/>
<path d="M893 3848.9 L895.9 3848.6 L898.4 3848.3 L900.9 3848.1 L902.9 3847.8" stroke="#0f0"/>
<path d="M964.6 3841.2 L967.4 3840.9 L970 3840.6 L972.5 3840.3 L974.5 3840.1" stroke="#0f0"/>
<path d="M1036.6 3833.7 L1039.4 3833.4 L1042 3833.1 L1044.5 3832.9 L1046.5 3832.6" stroke="#0f0"/>
<path d="M1108.6 3826.5 L1111.4 3826.2 L1114 3825.9 L1116.5 3825.7 L1118.5 3825.5" stroke="#0f0"/>
<path d="M1180.2 3819.6 L1183 3819.3 L1185.6 3819.1 L1188.1 3818.8 L1190.1 3818.6" stroke="#0f0"/>
<path d="M1251.8 3812.9 L1254.7 3812.7 L1257.2 3812.4 L1259.7 3812.2 L1261.8 3812" stroke="#0f0"/>
<path d="M1323.9 3806.5 L1326.8 3806.2 L1329.3 3806 L1331.9 3805.8 L1333.9 3805.6" stroke="#0f0"/>
<path d="M1395.7 3800.2 L1398.6 3800 L1401.1 3799.8 L1403.6 3799.5 L1405.7 3799.4" stroke="#0f0"/>
<path d="M1467.5 3794.2 L1470.4 3793.9 L1472.9 3793.7 L1475.5 3793.5 L1477.5 3793.3" stroke="#0f0"/>
</g>
<g font-family='"Liberation Serif", "Times New Roman", serif' fill="#000">
<text transform="translate(813.2 4287.2) scale(0.905 1)" font-size="86">(</text>
<text transform="translate(841.6 4287.2) scale(0.907 1)" font-size="89" font-weight="bold">c</text>
<text transform="translate(877.7 4287.2) scale(0.905 1)" font-size="86">)</text>
</g>
</svg></body></html>
